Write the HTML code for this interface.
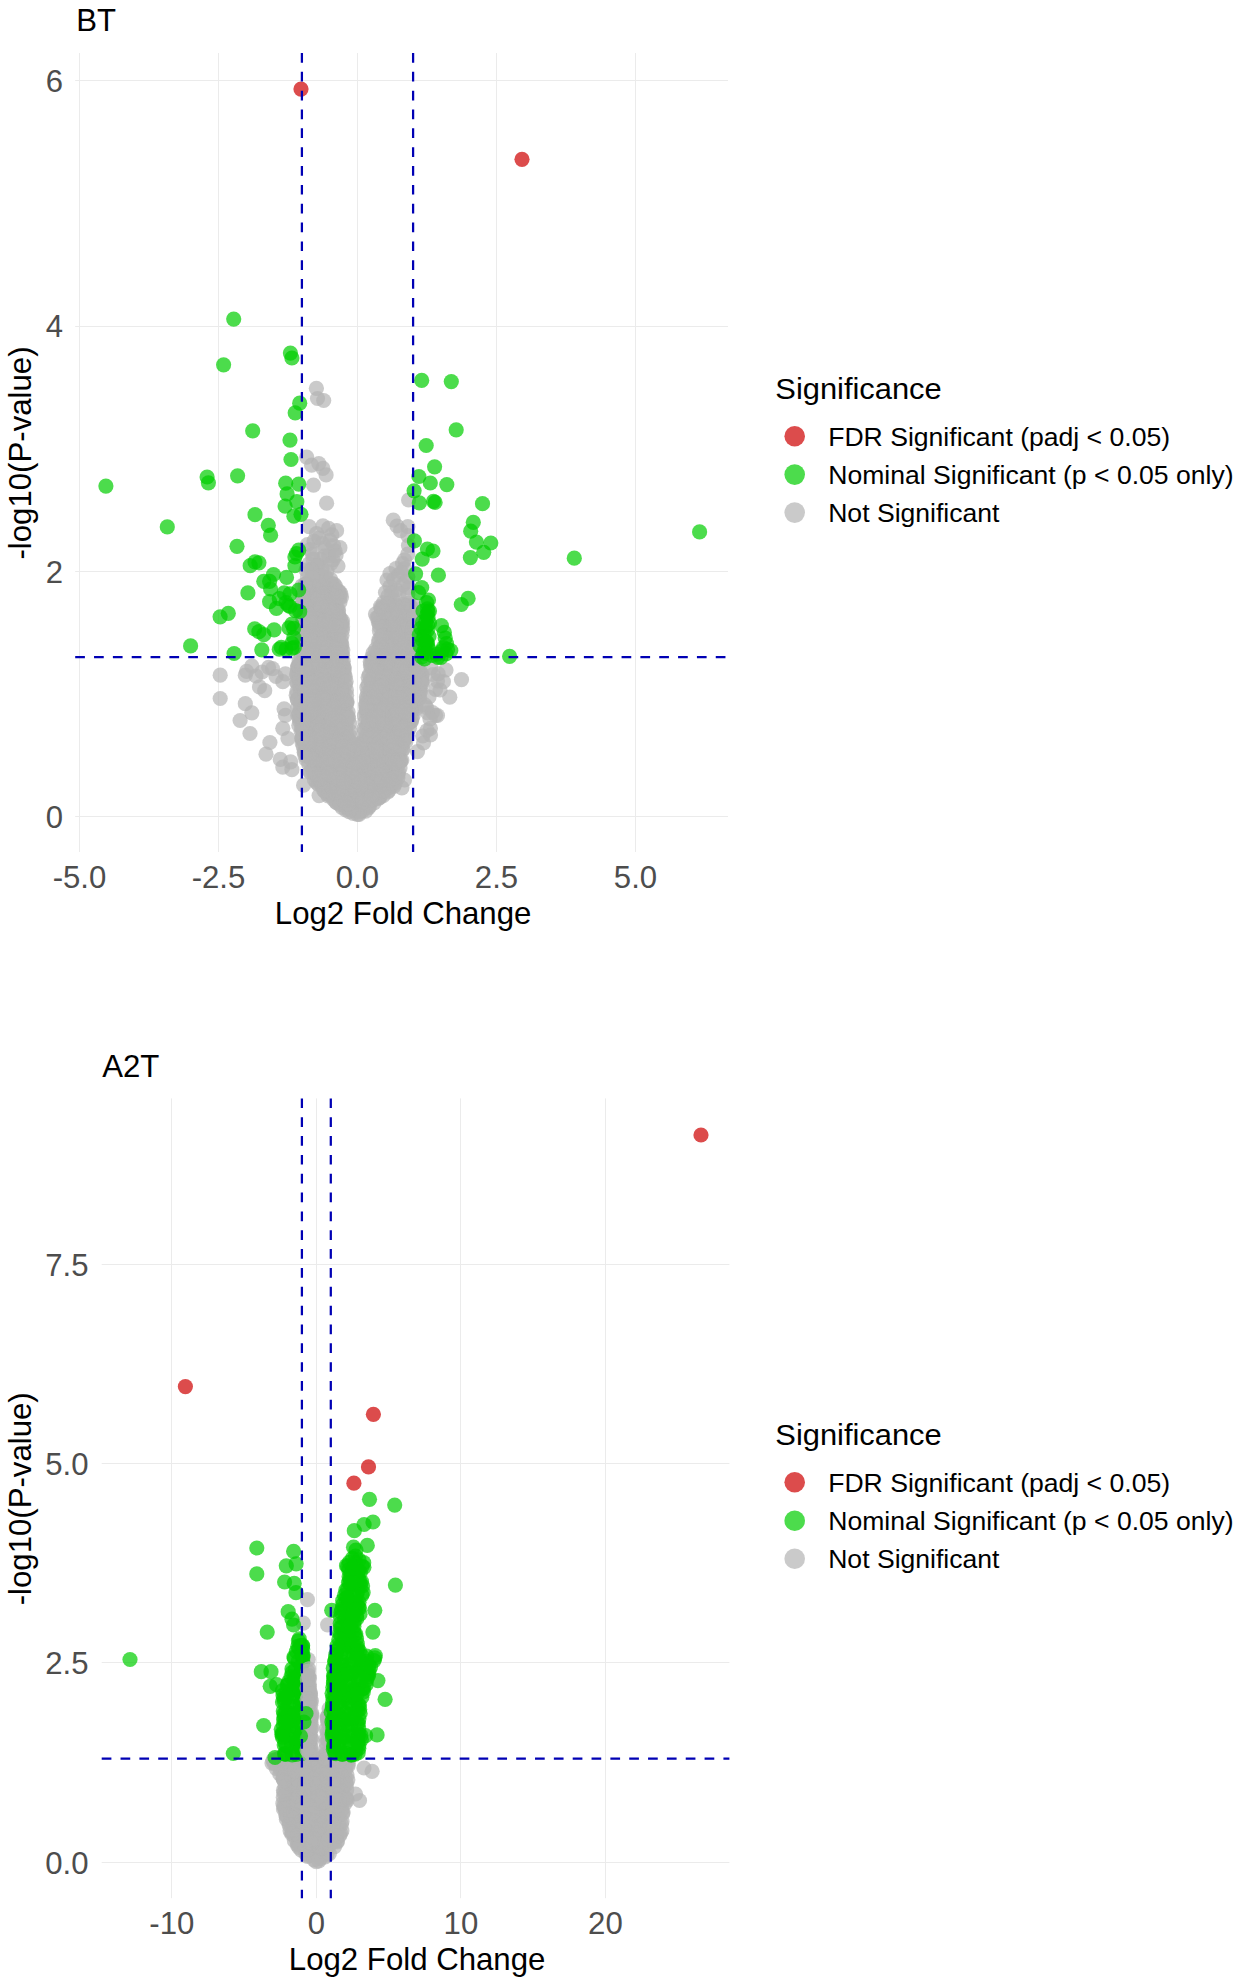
<!DOCTYPE html>
<html><head><meta charset="utf-8"><title>Volcano plots</title>
<style>html,body{margin:0;padding:0;background:#fff}svg{display:block;font-family:"Liberation Sans",sans-serif}</style></head><body>
<svg width="1236" height="1986" viewBox="0 0 1236 1986">
<rect width="1236" height="1986" fill="#fff"/>
<g stroke="#ebebeb" stroke-width="1" fill="none">
<line x1="79.5" y1="53.0" x2="79.5" y2="852.0"/>
<line x1="218.5" y1="53.0" x2="218.5" y2="852.0"/>
<line x1="357.5" y1="53.0" x2="357.5" y2="852.0"/>
<line x1="496.5" y1="53.0" x2="496.5" y2="852.0"/>
<line x1="635.5" y1="53.0" x2="635.5" y2="852.0"/>
<line x1="75.2" y1="816.5" x2="728.0" y2="816.5"/>
<line x1="75.2" y1="571.5" x2="728.0" y2="571.5"/>
<line x1="75.2" y1="326.5" x2="728.0" y2="326.5"/>
<line x1="75.2" y1="80.5" x2="728.0" y2="80.5"/>
</g>
<g fill="#b3b3b3" fill-opacity="0.7">
<circle cx="416.9" cy="688.2" r="7.6"/>
<circle cx="311.4" cy="616.7" r="7.6"/>
<circle cx="334.5" cy="703.0" r="7.6"/>
<circle cx="328.7" cy="680.5" r="7.6"/>
<circle cx="301.2" cy="627.1" r="7.6"/>
<circle cx="318.8" cy="654.1" r="7.6"/>
<circle cx="359.6" cy="772.1" r="7.6"/>
<circle cx="382.5" cy="608.5" r="7.6"/>
<circle cx="401.2" cy="623.2" r="7.6"/>
<circle cx="378.4" cy="622.5" r="7.6"/>
<circle cx="331.4" cy="644.3" r="7.6"/>
<circle cx="359.7" cy="795.9" r="7.6"/>
<circle cx="366.9" cy="687.6" r="7.6"/>
<circle cx="350.1" cy="767.7" r="7.6"/>
<circle cx="338.1" cy="695.6" r="7.6"/>
<circle cx="317.7" cy="771.1" r="7.6"/>
<circle cx="360.0" cy="791.3" r="7.6"/>
<circle cx="314.2" cy="766.9" r="7.6"/>
<circle cx="302.5" cy="647.6" r="7.6"/>
<circle cx="395.8" cy="634.8" r="7.6"/>
<circle cx="359.8" cy="744.0" r="7.6"/>
<circle cx="327.6" cy="794.2" r="7.6"/>
<circle cx="406.4" cy="647.9" r="7.6"/>
<circle cx="302.8" cy="660.0" r="7.6"/>
<circle cx="349.6" cy="723.7" r="7.6"/>
<circle cx="334.4" cy="619.7" r="7.6"/>
<circle cx="389.5" cy="728.2" r="7.6"/>
<circle cx="347.4" cy="774.3" r="7.6"/>
<circle cx="376.8" cy="753.9" r="7.6"/>
<circle cx="338.7" cy="624.1" r="7.6"/>
<circle cx="393.5" cy="767.7" r="7.6"/>
<circle cx="327.4" cy="786.0" r="7.6"/>
<circle cx="357.0" cy="773.6" r="7.6"/>
<circle cx="411.2" cy="654.2" r="7.6"/>
<circle cx="318.6" cy="748.5" r="7.6"/>
<circle cx="414.4" cy="652.4" r="7.6"/>
<circle cx="373.5" cy="675.7" r="7.6"/>
<circle cx="345.7" cy="728.7" r="7.6"/>
<circle cx="304.5" cy="734.4" r="7.6"/>
<circle cx="335.6" cy="658.1" r="7.6"/>
<circle cx="338.9" cy="616.0" r="7.6"/>
<circle cx="336.4" cy="610.5" r="7.6"/>
<circle cx="368.5" cy="732.2" r="7.6"/>
<circle cx="332.5" cy="600.7" r="7.6"/>
<circle cx="384.0" cy="703.5" r="7.6"/>
<circle cx="397.0" cy="767.0" r="7.6"/>
<circle cx="352.5" cy="803.1" r="7.6"/>
<circle cx="305.3" cy="711.7" r="7.6"/>
<circle cx="297.8" cy="671.0" r="7.6"/>
<circle cx="336.1" cy="675.6" r="7.6"/>
<circle cx="353.9" cy="779.9" r="7.6"/>
<circle cx="338.5" cy="703.7" r="7.6"/>
<circle cx="335.0" cy="690.7" r="7.6"/>
<circle cx="419.2" cy="682.3" r="7.6"/>
<circle cx="396.6" cy="628.9" r="7.6"/>
<circle cx="375.1" cy="725.9" r="7.6"/>
<circle cx="318.1" cy="696.5" r="7.6"/>
<circle cx="304.1" cy="593.3" r="7.6"/>
<circle cx="308.6" cy="643.0" r="7.6"/>
<circle cx="351.1" cy="783.7" r="7.6"/>
<circle cx="321.5" cy="668.9" r="7.6"/>
<circle cx="416.0" cy="706.4" r="7.6"/>
<circle cx="415.9" cy="702.9" r="7.6"/>
<circle cx="408.3" cy="666.0" r="7.6"/>
<circle cx="330.9" cy="771.2" r="7.6"/>
<circle cx="385.1" cy="734.1" r="7.6"/>
<circle cx="325.5" cy="610.4" r="7.6"/>
<circle cx="360.7" cy="744.5" r="7.6"/>
<circle cx="382.0" cy="785.9" r="7.6"/>
<circle cx="380.7" cy="762.1" r="7.6"/>
<circle cx="386.9" cy="779.7" r="7.6"/>
<circle cx="364.2" cy="774.1" r="7.6"/>
<circle cx="334.7" cy="678.9" r="7.6"/>
<circle cx="305.5" cy="662.0" r="7.6"/>
<circle cx="412.6" cy="666.7" r="7.6"/>
<circle cx="340.5" cy="666.1" r="7.6"/>
<circle cx="384.3" cy="615.2" r="7.6"/>
<circle cx="384.9" cy="632.6" r="7.6"/>
<circle cx="344.2" cy="668.1" r="7.6"/>
<circle cx="408.2" cy="650.2" r="7.6"/>
<circle cx="398.3" cy="635.5" r="7.6"/>
<circle cx="322.9" cy="592.5" r="7.6"/>
<circle cx="381.7" cy="610.6" r="7.6"/>
<circle cx="382.3" cy="748.7" r="7.6"/>
<circle cx="420.2" cy="688.4" r="7.6"/>
<circle cx="334.4" cy="791.2" r="7.6"/>
<circle cx="403.6" cy="691.1" r="7.6"/>
<circle cx="369.2" cy="803.2" r="7.6"/>
<circle cx="315.2" cy="646.6" r="7.6"/>
<circle cx="337.2" cy="776.5" r="7.6"/>
<circle cx="346.7" cy="799.4" r="7.6"/>
<circle cx="313.2" cy="629.0" r="7.6"/>
<circle cx="322.4" cy="774.2" r="7.6"/>
<circle cx="345.4" cy="684.5" r="7.6"/>
<circle cx="380.5" cy="667.4" r="7.6"/>
<circle cx="327.2" cy="590.9" r="7.6"/>
<circle cx="377.6" cy="727.5" r="7.6"/>
<circle cx="342.6" cy="655.6" r="7.6"/>
<circle cx="399.6" cy="619.6" r="7.6"/>
<circle cx="313.8" cy="723.1" r="7.6"/>
<circle cx="348.1" cy="712.1" r="7.6"/>
<circle cx="318.2" cy="784.2" r="7.6"/>
<circle cx="376.9" cy="617.6" r="7.6"/>
<circle cx="389.9" cy="637.2" r="7.6"/>
<circle cx="410.4" cy="608.2" r="7.6"/>
<circle cx="315.7" cy="630.2" r="7.6"/>
<circle cx="394.5" cy="731.5" r="7.6"/>
<circle cx="340.7" cy="673.9" r="7.6"/>
<circle cx="341.8" cy="644.9" r="7.6"/>
<circle cx="398.5" cy="695.4" r="7.6"/>
<circle cx="371.1" cy="762.5" r="7.6"/>
<circle cx="332.3" cy="737.9" r="7.6"/>
<circle cx="342.4" cy="630.0" r="7.6"/>
<circle cx="382.3" cy="759.4" r="7.6"/>
<circle cx="406.8" cy="606.7" r="7.6"/>
<circle cx="341.2" cy="648.9" r="7.6"/>
<circle cx="351.7" cy="760.7" r="7.6"/>
<circle cx="341.5" cy="766.7" r="7.6"/>
<circle cx="373.0" cy="653.2" r="7.6"/>
<circle cx="369.4" cy="674.7" r="7.6"/>
<circle cx="326.4" cy="587.7" r="7.6"/>
<circle cx="303.5" cy="651.0" r="7.6"/>
<circle cx="403.1" cy="742.3" r="7.6"/>
<circle cx="320.3" cy="596.2" r="7.6"/>
<circle cx="337.1" cy="712.8" r="7.6"/>
<circle cx="387.0" cy="788.5" r="7.6"/>
<circle cx="404.0" cy="636.6" r="7.6"/>
<circle cx="398.1" cy="647.0" r="7.6"/>
<circle cx="327.5" cy="766.6" r="7.6"/>
<circle cx="313.1" cy="755.0" r="7.6"/>
<circle cx="299.7" cy="718.7" r="7.6"/>
<circle cx="387.0" cy="627.0" r="7.6"/>
<circle cx="330.4" cy="691.8" r="7.6"/>
<circle cx="328.3" cy="663.3" r="7.6"/>
<circle cx="403.1" cy="749.3" r="7.6"/>
<circle cx="397.1" cy="623.6" r="7.6"/>
<circle cx="404.3" cy="612.6" r="7.6"/>
<circle cx="383.9" cy="646.2" r="7.6"/>
<circle cx="421.8" cy="682.2" r="7.6"/>
<circle cx="412.9" cy="619.0" r="7.6"/>
<circle cx="378.0" cy="764.5" r="7.6"/>
<circle cx="318.7" cy="704.5" r="7.6"/>
<circle cx="376.5" cy="660.9" r="7.6"/>
<circle cx="303.3" cy="746.7" r="7.6"/>
<circle cx="313.4" cy="672.7" r="7.6"/>
<circle cx="360.9" cy="767.4" r="7.6"/>
<circle cx="331.1" cy="627.6" r="7.6"/>
<circle cx="331.7" cy="652.4" r="7.6"/>
<circle cx="299.7" cy="721.5" r="7.6"/>
<circle cx="300.2" cy="690.1" r="7.6"/>
<circle cx="319.8" cy="615.4" r="7.6"/>
<circle cx="329.2" cy="600.0" r="7.6"/>
<circle cx="340.1" cy="732.7" r="7.6"/>
<circle cx="364.1" cy="765.6" r="7.6"/>
<circle cx="371.7" cy="716.3" r="7.6"/>
<circle cx="376.3" cy="698.8" r="7.6"/>
<circle cx="340.8" cy="706.0" r="7.6"/>
<circle cx="350.2" cy="771.5" r="7.6"/>
<circle cx="305.6" cy="584.1" r="7.6"/>
<circle cx="327.5" cy="583.3" r="7.6"/>
<circle cx="331.8" cy="632.1" r="7.6"/>
<circle cx="366.4" cy="697.1" r="7.6"/>
<circle cx="371.3" cy="740.6" r="7.6"/>
<circle cx="382.4" cy="743.2" r="7.6"/>
<circle cx="306.3" cy="717.9" r="7.6"/>
<circle cx="317.7" cy="683.8" r="7.6"/>
<circle cx="311.7" cy="607.8" r="7.6"/>
<circle cx="309.2" cy="649.0" r="7.6"/>
<circle cx="337.8" cy="751.1" r="7.6"/>
<circle cx="308.7" cy="634.6" r="7.6"/>
<circle cx="372.1" cy="660.3" r="7.6"/>
<circle cx="383.9" cy="622.3" r="7.6"/>
<circle cx="415.2" cy="679.5" r="7.6"/>
<circle cx="328.2" cy="655.1" r="7.6"/>
<circle cx="334.6" cy="727.3" r="7.6"/>
<circle cx="386.2" cy="660.0" r="7.6"/>
<circle cx="363.6" cy="771.7" r="7.6"/>
<circle cx="332.8" cy="694.5" r="7.6"/>
<circle cx="327.8" cy="597.0" r="7.6"/>
<circle cx="329.9" cy="588.6" r="7.6"/>
<circle cx="408.6" cy="698.4" r="7.6"/>
<circle cx="305.6" cy="614.2" r="7.6"/>
<circle cx="384.9" cy="651.4" r="7.6"/>
<circle cx="316.4" cy="782.5" r="7.6"/>
<circle cx="318.0" cy="646.8" r="7.6"/>
<circle cx="382.8" cy="670.0" r="7.6"/>
<circle cx="377.8" cy="732.8" r="7.6"/>
<circle cx="303.7" cy="629.2" r="7.6"/>
<circle cx="314.0" cy="592.8" r="7.6"/>
<circle cx="309.5" cy="734.7" r="7.6"/>
<circle cx="386.8" cy="618.3" r="7.6"/>
<circle cx="340.3" cy="684.8" r="7.6"/>
<circle cx="409.7" cy="690.4" r="7.6"/>
<circle cx="316.8" cy="627.2" r="7.6"/>
<circle cx="392.2" cy="606.8" r="7.6"/>
<circle cx="317.3" cy="690.5" r="7.6"/>
<circle cx="302.5" cy="623.6" r="7.6"/>
<circle cx="338.7" cy="639.3" r="7.6"/>
<circle cx="371.9" cy="786.4" r="7.6"/>
<circle cx="392.2" cy="621.1" r="7.6"/>
<circle cx="368.0" cy="794.9" r="7.6"/>
<circle cx="352.0" cy="790.9" r="7.6"/>
<circle cx="346.1" cy="724.1" r="7.6"/>
<circle cx="371.6" cy="684.2" r="7.6"/>
<circle cx="337.3" cy="734.8" r="7.6"/>
<circle cx="332.6" cy="750.4" r="7.6"/>
<circle cx="367.7" cy="692.7" r="7.6"/>
<circle cx="297.2" cy="675.1" r="7.6"/>
<circle cx="374.6" cy="712.6" r="7.6"/>
<circle cx="391.6" cy="763.9" r="7.6"/>
<circle cx="419.1" cy="697.8" r="7.6"/>
<circle cx="314.8" cy="695.6" r="7.6"/>
<circle cx="402.4" cy="719.2" r="7.6"/>
<circle cx="348.0" cy="716.3" r="7.6"/>
<circle cx="329.7" cy="675.7" r="7.6"/>
<circle cx="346.6" cy="695.3" r="7.6"/>
<circle cx="325.2" cy="634.7" r="7.6"/>
<circle cx="332.4" cy="664.5" r="7.6"/>
<circle cx="329.1" cy="703.2" r="7.6"/>
<circle cx="338.5" cy="610.5" r="7.6"/>
<circle cx="317.8" cy="643.1" r="7.6"/>
<circle cx="328.0" cy="649.0" r="7.6"/>
<circle cx="410.0" cy="622.5" r="7.6"/>
<circle cx="375.9" cy="795.4" r="7.6"/>
<circle cx="365.8" cy="712.6" r="7.6"/>
<circle cx="378.8" cy="710.7" r="7.6"/>
<circle cx="334.3" cy="639.0" r="7.6"/>
<circle cx="309.3" cy="732.8" r="7.6"/>
<circle cx="317.2" cy="700.7" r="7.6"/>
<circle cx="403.2" cy="643.2" r="7.6"/>
<circle cx="344.1" cy="671.1" r="7.6"/>
<circle cx="386.4" cy="746.0" r="7.6"/>
<circle cx="302.0" cy="585.9" r="7.6"/>
<circle cx="397.7" cy="607.5" r="7.6"/>
<circle cx="301.0" cy="658.7" r="7.6"/>
<circle cx="352.9" cy="810.3" r="7.6"/>
<circle cx="406.7" cy="605.4" r="7.6"/>
<circle cx="348.9" cy="755.6" r="7.6"/>
<circle cx="368.7" cy="714.7" r="7.6"/>
<circle cx="297.4" cy="667.9" r="7.6"/>
<circle cx="357.2" cy="806.5" r="7.6"/>
<circle cx="326.9" cy="748.2" r="7.6"/>
<circle cx="408.3" cy="662.4" r="7.6"/>
<circle cx="408.2" cy="685.8" r="7.6"/>
<circle cx="398.6" cy="772.0" r="7.6"/>
<circle cx="364.1" cy="728.7" r="7.6"/>
<circle cx="319.3" cy="679.9" r="7.6"/>
<circle cx="357.7" cy="762.6" r="7.6"/>
<circle cx="405.5" cy="738.5" r="7.6"/>
<circle cx="342.6" cy="663.7" r="7.6"/>
<circle cx="354.4" cy="755.5" r="7.6"/>
<circle cx="383.1" cy="795.7" r="7.6"/>
<circle cx="321.6" cy="756.6" r="7.6"/>
<circle cx="393.9" cy="621.0" r="7.6"/>
<circle cx="402.7" cy="702.8" r="7.6"/>
<circle cx="350.3" cy="743.8" r="7.6"/>
<circle cx="322.4" cy="663.5" r="7.6"/>
<circle cx="300.2" cy="708.9" r="7.6"/>
<circle cx="402.8" cy="616.5" r="7.6"/>
<circle cx="396.7" cy="676.3" r="7.6"/>
<circle cx="327.7" cy="734.3" r="7.6"/>
<circle cx="326.6" cy="715.6" r="7.6"/>
<circle cx="336.5" cy="746.5" r="7.6"/>
<circle cx="348.4" cy="742.5" r="7.6"/>
<circle cx="389.4" cy="632.9" r="7.6"/>
<circle cx="373.7" cy="708.6" r="7.6"/>
<circle cx="397.9" cy="777.8" r="7.6"/>
<circle cx="335.7" cy="764.6" r="7.6"/>
<circle cx="380.0" cy="716.1" r="7.6"/>
<circle cx="296.6" cy="674.2" r="7.6"/>
<circle cx="349.9" cy="763.7" r="7.6"/>
<circle cx="422.1" cy="674.3" r="7.6"/>
<circle cx="318.8" cy="672.3" r="7.6"/>
<circle cx="343.3" cy="762.5" r="7.6"/>
<circle cx="404.2" cy="675.2" r="7.6"/>
<circle cx="359.3" cy="776.0" r="7.6"/>
<circle cx="309.6" cy="600.9" r="7.6"/>
<circle cx="325.2" cy="656.6" r="7.6"/>
<circle cx="346.6" cy="783.7" r="7.6"/>
<circle cx="408.0" cy="704.8" r="7.6"/>
<circle cx="381.8" cy="650.2" r="7.6"/>
<circle cx="305.6" cy="704.8" r="7.6"/>
<circle cx="329.4" cy="723.9" r="7.6"/>
<circle cx="381.9" cy="698.7" r="7.6"/>
<circle cx="412.3" cy="646.0" r="7.6"/>
<circle cx="309.3" cy="588.6" r="7.6"/>
<circle cx="400.3" cy="675.8" r="7.6"/>
<circle cx="386.1" cy="635.7" r="7.6"/>
<circle cx="334.4" cy="643.3" r="7.6"/>
<circle cx="301.4" cy="694.5" r="7.6"/>
<circle cx="307.3" cy="627.8" r="7.6"/>
<circle cx="346.3" cy="791.9" r="7.6"/>
<circle cx="334.6" cy="737.8" r="7.6"/>
<circle cx="313.9" cy="732.6" r="7.6"/>
<circle cx="389.1" cy="784.2" r="7.6"/>
<circle cx="399.0" cy="740.2" r="7.6"/>
<circle cx="405.0" cy="659.6" r="7.6"/>
<circle cx="342.5" cy="620.8" r="7.6"/>
<circle cx="391.2" cy="643.9" r="7.6"/>
<circle cx="324.6" cy="606.4" r="7.6"/>
<circle cx="303.4" cy="619.7" r="7.6"/>
<circle cx="386.8" cy="671.9" r="7.6"/>
<circle cx="336.6" cy="802.6" r="7.6"/>
<circle cx="327.1" cy="739.3" r="7.6"/>
<circle cx="329.9" cy="794.8" r="7.6"/>
<circle cx="315.2" cy="584.8" r="7.6"/>
<circle cx="376.1" cy="676.0" r="7.6"/>
<circle cx="343.2" cy="730.0" r="7.6"/>
<circle cx="314.2" cy="752.5" r="7.6"/>
<circle cx="399.9" cy="660.6" r="7.6"/>
<circle cx="392.5" cy="688.2" r="7.6"/>
<circle cx="311.6" cy="658.9" r="7.6"/>
<circle cx="413.7" cy="643.6" r="7.6"/>
<circle cx="333.5" cy="799.3" r="7.6"/>
<circle cx="322.7" cy="642.3" r="7.6"/>
<circle cx="370.7" cy="691.4" r="7.6"/>
<circle cx="308.3" cy="650.1" r="7.6"/>
<circle cx="343.5" cy="795.9" r="7.6"/>
<circle cx="340.4" cy="618.3" r="7.6"/>
<circle cx="387.3" cy="766.4" r="7.6"/>
<circle cx="369.5" cy="751.2" r="7.6"/>
<circle cx="390.8" cy="716.7" r="7.6"/>
<circle cx="416.1" cy="708.7" r="7.6"/>
<circle cx="390.1" cy="627.3" r="7.6"/>
<circle cx="373.4" cy="746.6" r="7.6"/>
<circle cx="411.2" cy="664.3" r="7.6"/>
<circle cx="330.1" cy="616.7" r="7.6"/>
<circle cx="321.4" cy="762.0" r="7.6"/>
<circle cx="302.9" cy="593.7" r="7.6"/>
<circle cx="359.9" cy="750.6" r="7.6"/>
<circle cx="302.0" cy="636.1" r="7.6"/>
<circle cx="361.7" cy="747.7" r="7.6"/>
<circle cx="381.5" cy="658.5" r="7.6"/>
<circle cx="341.8" cy="680.1" r="7.6"/>
<circle cx="329.4" cy="777.5" r="7.6"/>
<circle cx="386.9" cy="654.3" r="7.6"/>
<circle cx="304.7" cy="603.6" r="7.6"/>
<circle cx="366.7" cy="699.9" r="7.6"/>
<circle cx="341.9" cy="807.3" r="7.6"/>
<circle cx="349.7" cy="785.6" r="7.6"/>
<circle cx="417.9" cy="668.9" r="7.6"/>
<circle cx="324.7" cy="791.4" r="7.6"/>
<circle cx="419.6" cy="674.0" r="7.6"/>
<circle cx="323.5" cy="789.8" r="7.6"/>
<circle cx="396.2" cy="605.4" r="7.6"/>
<circle cx="364.2" cy="788.4" r="7.6"/>
<circle cx="313.0" cy="650.4" r="7.6"/>
<circle cx="394.0" cy="754.5" r="7.6"/>
<circle cx="319.3" cy="781.5" r="7.6"/>
<circle cx="316.4" cy="764.1" r="7.6"/>
<circle cx="385.1" cy="692.6" r="7.6"/>
<circle cx="413.2" cy="649.5" r="7.6"/>
<circle cx="333.4" cy="654.1" r="7.6"/>
<circle cx="348.2" cy="738.7" r="7.6"/>
<circle cx="333.9" cy="785.4" r="7.6"/>
<circle cx="329.4" cy="698.9" r="7.6"/>
<circle cx="394.5" cy="721.7" r="7.6"/>
<circle cx="302.7" cy="731.9" r="7.6"/>
<circle cx="325.1" cy="598.3" r="7.6"/>
<circle cx="368.4" cy="743.2" r="7.6"/>
<circle cx="373.7" cy="678.6" r="7.6"/>
<circle cx="325.9" cy="779.1" r="7.6"/>
<circle cx="378.4" cy="737.7" r="7.6"/>
<circle cx="331.0" cy="604.7" r="7.6"/>
<circle cx="336.4" cy="664.8" r="7.6"/>
<circle cx="336.6" cy="632.4" r="7.6"/>
<circle cx="405.2" cy="641.2" r="7.6"/>
<circle cx="403.4" cy="604.3" r="7.6"/>
<circle cx="325.5" cy="625.1" r="7.6"/>
<circle cx="366.9" cy="726.6" r="7.6"/>
<circle cx="342.9" cy="792.5" r="7.6"/>
<circle cx="341.1" cy="720.5" r="7.6"/>
<circle cx="399.2" cy="616.2" r="7.6"/>
<circle cx="325.2" cy="742.1" r="7.6"/>
<circle cx="388.6" cy="719.3" r="7.6"/>
<circle cx="365.6" cy="705.1" r="7.6"/>
<circle cx="378.1" cy="664.1" r="7.6"/>
<circle cx="312.1" cy="675.4" r="7.6"/>
<circle cx="325.3" cy="767.7" r="7.6"/>
<circle cx="340.0" cy="602.1" r="7.6"/>
<circle cx="382.9" cy="751.1" r="7.6"/>
<circle cx="363.7" cy="741.5" r="7.6"/>
<circle cx="319.7" cy="591.1" r="7.6"/>
<circle cx="330.0" cy="639.9" r="7.6"/>
<circle cx="392.2" cy="771.2" r="7.6"/>
<circle cx="366.9" cy="805.9" r="7.6"/>
<circle cx="358.4" cy="787.7" r="7.6"/>
<circle cx="378.1" cy="772.6" r="7.6"/>
<circle cx="374.4" cy="688.5" r="7.6"/>
<circle cx="332.4" cy="667.9" r="7.6"/>
<circle cx="412.6" cy="634.5" r="7.6"/>
<circle cx="382.5" cy="730.9" r="7.6"/>
<circle cx="328.6" cy="744.7" r="7.6"/>
<circle cx="308.9" cy="707.8" r="7.6"/>
<circle cx="320.7" cy="750.5" r="7.6"/>
<circle cx="403.8" cy="651.2" r="7.6"/>
<circle cx="322.6" cy="584.8" r="7.6"/>
<circle cx="328.0" cy="781.4" r="7.6"/>
<circle cx="309.1" cy="659.8" r="7.6"/>
<circle cx="301.9" cy="738.0" r="7.6"/>
<circle cx="413.5" cy="636.4" r="7.6"/>
<circle cx="313.9" cy="687.4" r="7.6"/>
<circle cx="375.8" cy="747.8" r="7.6"/>
<circle cx="335.7" cy="723.4" r="7.6"/>
<circle cx="350.2" cy="731.4" r="7.6"/>
<circle cx="345.8" cy="809.8" r="7.6"/>
<circle cx="304.2" cy="699.3" r="7.6"/>
<circle cx="305.9" cy="696.6" r="7.6"/>
<circle cx="320.8" cy="612.5" r="7.6"/>
<circle cx="304.2" cy="752.2" r="7.6"/>
<circle cx="381.4" cy="609.1" r="7.6"/>
<circle cx="302.4" cy="643.2" r="7.6"/>
<circle cx="366.5" cy="799.9" r="7.6"/>
<circle cx="319.1" cy="768.1" r="7.6"/>
<circle cx="404.0" cy="627.2" r="7.6"/>
<circle cx="359.7" cy="808.0" r="7.6"/>
<circle cx="334.4" cy="681.9" r="7.6"/>
<circle cx="341.9" cy="622.9" r="7.6"/>
<circle cx="311.3" cy="695.8" r="7.6"/>
<circle cx="344.9" cy="780.4" r="7.6"/>
<circle cx="313.5" cy="748.1" r="7.6"/>
<circle cx="405.7" cy="680.6" r="7.6"/>
<circle cx="355.7" cy="799.4" r="7.6"/>
<circle cx="355.2" cy="751.4" r="7.6"/>
<circle cx="314.5" cy="780.0" r="7.6"/>
<circle cx="311.2" cy="587.0" r="7.6"/>
<circle cx="341.7" cy="655.5" r="7.6"/>
<circle cx="329.1" cy="695.1" r="7.6"/>
<circle cx="393.7" cy="643.1" r="7.6"/>
<circle cx="409.1" cy="621.1" r="7.6"/>
<circle cx="342.8" cy="650.0" r="7.6"/>
<circle cx="297.9" cy="678.3" r="7.6"/>
<circle cx="387.6" cy="644.5" r="7.6"/>
<circle cx="321.3" cy="691.0" r="7.6"/>
<circle cx="313.4" cy="584.5" r="7.6"/>
<circle cx="409.4" cy="728.5" r="7.6"/>
<circle cx="327.8" cy="605.3" r="7.6"/>
<circle cx="382.8" cy="627.5" r="7.6"/>
<circle cx="323.1" cy="727.1" r="7.6"/>
<circle cx="366.4" cy="748.7" r="7.6"/>
<circle cx="419.7" cy="690.8" r="7.6"/>
<circle cx="415.8" cy="695.5" r="7.6"/>
<circle cx="343.4" cy="690.9" r="7.6"/>
<circle cx="402.2" cy="726.8" r="7.6"/>
<circle cx="315.8" cy="739.3" r="7.6"/>
<circle cx="331.8" cy="746.1" r="7.6"/>
<circle cx="370.3" cy="758.2" r="7.6"/>
<circle cx="328.2" cy="670.6" r="7.6"/>
<circle cx="389.8" cy="749.9" r="7.6"/>
<circle cx="399.1" cy="662.0" r="7.6"/>
<circle cx="391.7" cy="680.1" r="7.6"/>
<circle cx="404.7" cy="713.7" r="7.6"/>
<circle cx="315.7" cy="707.2" r="7.6"/>
<circle cx="310.1" cy="772.4" r="7.6"/>
<circle cx="308.9" cy="684.5" r="7.6"/>
<circle cx="341.8" cy="671.2" r="7.6"/>
<circle cx="314.0" cy="620.1" r="7.6"/>
<circle cx="309.6" cy="671.1" r="7.6"/>
<circle cx="380.4" cy="675.4" r="7.6"/>
<circle cx="420.5" cy="691.5" r="7.6"/>
<circle cx="364.5" cy="715.7" r="7.6"/>
<circle cx="359.1" cy="814.3" r="7.6"/>
<circle cx="339.2" cy="748.5" r="7.6"/>
<circle cx="346.9" cy="701.5" r="7.6"/>
<circle cx="318.0" cy="618.3" r="7.6"/>
<circle cx="304.5" cy="611.1" r="7.6"/>
<circle cx="325.6" cy="724.4" r="7.6"/>
<circle cx="357.2" cy="801.6" r="7.6"/>
<circle cx="346.8" cy="703.5" r="7.6"/>
<circle cx="343.9" cy="714.6" r="7.6"/>
<circle cx="315.3" cy="719.4" r="7.6"/>
<circle cx="314.9" cy="774.5" r="7.6"/>
<circle cx="329.3" cy="632.9" r="7.6"/>
<circle cx="322.5" cy="722.0" r="7.6"/>
<circle cx="311.1" cy="635.5" r="7.6"/>
<circle cx="360.3" cy="798.5" r="7.6"/>
<circle cx="296.2" cy="695.2" r="7.6"/>
<circle cx="421.7" cy="675.5" r="7.6"/>
<circle cx="299.3" cy="682.9" r="7.6"/>
<circle cx="332.9" cy="736.8" r="7.6"/>
<circle cx="398.7" cy="706.0" r="7.6"/>
<circle cx="402.7" cy="672.8" r="7.6"/>
<circle cx="327.5" cy="753.7" r="7.6"/>
<circle cx="395.9" cy="699.3" r="7.6"/>
<circle cx="408.5" cy="611.6" r="7.6"/>
<circle cx="331.9" cy="583.6" r="7.6"/>
<circle cx="345.3" cy="676.4" r="7.6"/>
<circle cx="394.5" cy="649.0" r="7.6"/>
<circle cx="414.4" cy="635.6" r="7.6"/>
<circle cx="331.6" cy="710.1" r="7.6"/>
<circle cx="385.5" cy="606.0" r="7.6"/>
<circle cx="324.9" cy="626.3" r="7.6"/>
<circle cx="336.1" cy="754.9" r="7.6"/>
<circle cx="386.0" cy="755.4" r="7.6"/>
<circle cx="316.3" cy="599.6" r="7.6"/>
<circle cx="401.2" cy="716.1" r="7.6"/>
<circle cx="331.0" cy="786.5" r="7.6"/>
<circle cx="334.4" cy="783.3" r="7.6"/>
<circle cx="335.8" cy="634.7" r="7.6"/>
<circle cx="377.6" cy="786.9" r="7.6"/>
<circle cx="411.5" cy="711.0" r="7.6"/>
<circle cx="346.0" cy="739.2" r="7.6"/>
<circle cx="372.0" cy="657.6" r="7.6"/>
<circle cx="399.0" cy="627.2" r="7.6"/>
<circle cx="338.5" cy="786.5" r="7.6"/>
<circle cx="390.0" cy="707.4" r="7.6"/>
<circle cx="312.8" cy="716.8" r="7.6"/>
<circle cx="399.9" cy="650.7" r="7.6"/>
<circle cx="408.3" cy="614.2" r="7.6"/>
<circle cx="320.9" cy="660.0" r="7.6"/>
<circle cx="384.7" cy="770.3" r="7.6"/>
<circle cx="353.2" cy="770.1" r="7.6"/>
<circle cx="329.3" cy="622.8" r="7.6"/>
<circle cx="386.4" cy="700.0" r="7.6"/>
<circle cx="382.9" cy="756.3" r="7.6"/>
<circle cx="384.8" cy="774.0" r="7.6"/>
<circle cx="317.5" cy="604.5" r="7.6"/>
<circle cx="409.8" cy="703.8" r="7.6"/>
<circle cx="409.1" cy="644.5" r="7.6"/>
<circle cx="384.6" cy="715.7" r="7.6"/>
<circle cx="398.2" cy="638.8" r="7.6"/>
<circle cx="400.6" cy="686.5" r="7.6"/>
<circle cx="328.7" cy="607.5" r="7.6"/>
<circle cx="368.4" cy="770.9" r="7.6"/>
<circle cx="391.4" cy="722.5" r="7.6"/>
<circle cx="382.5" cy="784.6" r="7.6"/>
<circle cx="403.8" cy="722.5" r="7.6"/>
<circle cx="370.3" cy="661.8" r="7.6"/>
<circle cx="302.6" cy="740.0" r="7.6"/>
<circle cx="364.0" cy="739.7" r="7.6"/>
<circle cx="406.5" cy="630.5" r="7.6"/>
<circle cx="315.0" cy="664.7" r="7.6"/>
<circle cx="379.6" cy="797.6" r="7.6"/>
<circle cx="370.6" cy="784.4" r="7.6"/>
<circle cx="313.3" cy="728.6" r="7.6"/>
<circle cx="301.7" cy="715.0" r="7.6"/>
<circle cx="305.8" cy="686.3" r="7.6"/>
<circle cx="331.4" cy="682.6" r="7.6"/>
<circle cx="390.2" cy="682.8" r="7.6"/>
<circle cx="343.6" cy="707.8" r="7.6"/>
<circle cx="375.3" cy="706.9" r="7.6"/>
<circle cx="381.2" cy="607.9" r="7.6"/>
<circle cx="313.7" cy="763.6" r="7.6"/>
<circle cx="409.7" cy="636.0" r="7.6"/>
<circle cx="298.8" cy="725.4" r="7.6"/>
<circle cx="401.8" cy="607.5" r="7.6"/>
<circle cx="401.8" cy="760.1" r="7.6"/>
<circle cx="341.5" cy="728.7" r="7.6"/>
<circle cx="367.6" cy="753.6" r="7.6"/>
<circle cx="384.5" cy="710.5" r="7.6"/>
<circle cx="346.7" cy="702.6" r="7.6"/>
<circle cx="367.3" cy="763.6" r="7.6"/>
<circle cx="378.0" cy="696.9" r="7.6"/>
<circle cx="390.2" cy="675.7" r="7.6"/>
<circle cx="381.1" cy="621.0" r="7.6"/>
<circle cx="387.1" cy="686.1" r="7.6"/>
<circle cx="414.9" cy="664.6" r="7.6"/>
<circle cx="341.4" cy="794.4" r="7.6"/>
<circle cx="297.4" cy="699.1" r="7.6"/>
<circle cx="334.6" cy="609.1" r="7.6"/>
<circle cx="378.2" cy="718.8" r="7.6"/>
<circle cx="297.8" cy="666.0" r="7.6"/>
<circle cx="386.2" cy="683.4" r="7.6"/>
<circle cx="308.3" cy="602.8" r="7.6"/>
<circle cx="311.6" cy="613.3" r="7.6"/>
<circle cx="342.5" cy="773.8" r="7.6"/>
<circle cx="309.1" cy="583.9" r="7.6"/>
<circle cx="330.0" cy="752.0" r="7.6"/>
<circle cx="349.2" cy="811.7" r="7.6"/>
<circle cx="344.3" cy="675.0" r="7.6"/>
<circle cx="342.6" cy="626.7" r="7.6"/>
<circle cx="338.6" cy="799.3" r="7.6"/>
<circle cx="331.7" cy="670.4" r="7.6"/>
<circle cx="321.4" cy="770.7" r="7.6"/>
<circle cx="328.1" cy="728.0" r="7.6"/>
<circle cx="393.2" cy="672.5" r="7.6"/>
<circle cx="368.4" cy="774.0" r="7.6"/>
<circle cx="404.8" cy="684.3" r="7.6"/>
<circle cx="379.5" cy="622.4" r="7.6"/>
<circle cx="335.9" cy="802.0" r="7.6"/>
<circle cx="322.6" cy="736.1" r="7.6"/>
<circle cx="334.9" cy="605.1" r="7.6"/>
<circle cx="338.9" cy="754.9" r="7.6"/>
<circle cx="324.6" cy="695.2" r="7.6"/>
<circle cx="410.6" cy="696.4" r="7.6"/>
<circle cx="320.0" cy="638.3" r="7.6"/>
<circle cx="311.8" cy="738.2" r="7.6"/>
<circle cx="405.9" cy="699.7" r="7.6"/>
<circle cx="385.5" cy="730.7" r="7.6"/>
<circle cx="350.4" cy="741.8" r="7.6"/>
<circle cx="304.6" cy="751.6" r="7.6"/>
<circle cx="299.5" cy="715.3" r="7.6"/>
<circle cx="343.6" cy="800.5" r="7.6"/>
<circle cx="390.2" cy="660.0" r="7.6"/>
<circle cx="407.9" cy="696.1" r="7.6"/>
<circle cx="374.5" cy="776.5" r="7.6"/>
<circle cx="359.2" cy="758.9" r="7.6"/>
<circle cx="392.9" cy="710.9" r="7.6"/>
<circle cx="395.1" cy="783.5" r="7.6"/>
<circle cx="394.0" cy="693.0" r="7.6"/>
<circle cx="378.5" cy="642.5" r="7.6"/>
<circle cx="381.1" cy="644.2" r="7.6"/>
<circle cx="322.2" cy="748.1" r="7.6"/>
<circle cx="336.2" cy="598.6" r="7.6"/>
<circle cx="366.2" cy="758.3" r="7.6"/>
<circle cx="392.5" cy="662.6" r="7.6"/>
<circle cx="388.3" cy="743.6" r="7.6"/>
<circle cx="301.8" cy="672.2" r="7.6"/>
<circle cx="348.2" cy="779.0" r="7.6"/>
<circle cx="297.1" cy="682.0" r="7.6"/>
<circle cx="381.6" cy="707.4" r="7.6"/>
<circle cx="413.1" cy="605.1" r="7.6"/>
<circle cx="371.2" cy="667.7" r="7.6"/>
<circle cx="306.1" cy="728.6" r="7.6"/>
<circle cx="371.2" cy="702.6" r="7.6"/>
<circle cx="397.4" cy="741.9" r="7.6"/>
<circle cx="345.5" cy="711.0" r="7.6"/>
<circle cx="393.0" cy="725.9" r="7.6"/>
<circle cx="405.0" cy="731.1" r="7.6"/>
<circle cx="314.4" cy="760.4" r="7.6"/>
<circle cx="339.0" cy="634.9" r="7.6"/>
<circle cx="306.9" cy="746.3" r="7.6"/>
<circle cx="391.5" cy="604.8" r="7.6"/>
<circle cx="421.5" cy="679.1" r="7.6"/>
<circle cx="387.0" cy="624.2" r="7.6"/>
<circle cx="373.8" cy="743.4" r="7.6"/>
<circle cx="316.8" cy="753.9" r="7.6"/>
<circle cx="412.3" cy="638.7" r="7.6"/>
<circle cx="354.9" cy="762.7" r="7.6"/>
<circle cx="335.5" cy="586.0" r="7.6"/>
<circle cx="338.0" cy="611.5" r="7.6"/>
<circle cx="389.4" cy="640.1" r="7.6"/>
<circle cx="337.0" cy="607.7" r="7.6"/>
<circle cx="322.0" cy="620.5" r="7.6"/>
<circle cx="370.9" cy="754.8" r="7.6"/>
<circle cx="302.7" cy="675.5" r="7.6"/>
<circle cx="338.5" cy="616.6" r="7.6"/>
<circle cx="371.4" cy="711.5" r="7.6"/>
<circle cx="318.3" cy="610.6" r="7.6"/>
<circle cx="331.2" cy="731.6" r="7.6"/>
<circle cx="399.1" cy="670.8" r="7.6"/>
<circle cx="365.4" cy="742.8" r="7.6"/>
<circle cx="316.0" cy="676.0" r="7.6"/>
<circle cx="306.9" cy="669.9" r="7.6"/>
<circle cx="395.3" cy="770.5" r="7.6"/>
<circle cx="318.3" cy="662.4" r="7.6"/>
<circle cx="382.3" cy="738.9" r="7.6"/>
<circle cx="400.5" cy="761.6" r="7.6"/>
<circle cx="373.5" cy="719.6" r="7.6"/>
<circle cx="394.4" cy="736.6" r="7.6"/>
<circle cx="320.7" cy="744.3" r="7.6"/>
<circle cx="371.1" cy="725.8" r="7.6"/>
<circle cx="313.9" cy="654.9" r="7.6"/>
<circle cx="382.2" cy="767.7" r="7.6"/>
<circle cx="397.6" cy="632.3" r="7.6"/>
<circle cx="378.3" cy="617.1" r="7.6"/>
<circle cx="346.1" cy="767.8" r="7.6"/>
<circle cx="387.1" cy="607.8" r="7.6"/>
<circle cx="323.3" cy="704.5" r="7.6"/>
<circle cx="366.3" cy="710.6" r="7.6"/>
<circle cx="326.8" cy="692.4" r="7.6"/>
<circle cx="389.4" cy="760.2" r="7.6"/>
<circle cx="342.2" cy="702.0" r="7.6"/>
<circle cx="297.7" cy="707.0" r="7.6"/>
<circle cx="337.3" cy="680.7" r="7.6"/>
<circle cx="397.6" cy="726.2" r="7.6"/>
<circle cx="338.3" cy="759.7" r="7.6"/>
<circle cx="305.7" cy="583.8" r="7.6"/>
<circle cx="308.9" cy="720.4" r="7.6"/>
<circle cx="383.8" cy="678.2" r="7.6"/>
<circle cx="306.0" cy="599.8" r="7.6"/>
<circle cx="392.7" cy="751.7" r="7.6"/>
<circle cx="339.6" cy="804.3" r="7.6"/>
<circle cx="339.5" cy="722.2" r="7.6"/>
<circle cx="365.7" cy="811.2" r="7.6"/>
<circle cx="411.4" cy="688.4" r="7.6"/>
<circle cx="299.2" cy="660.8" r="7.6"/>
<circle cx="378.4" cy="682.2" r="7.6"/>
<circle cx="310.5" cy="664.2" r="7.6"/>
<circle cx="390.1" cy="756.7" r="7.6"/>
<circle cx="306.0" cy="759.4" r="7.6"/>
<circle cx="336.5" cy="649.1" r="7.6"/>
<circle cx="376.5" cy="690.8" r="7.6"/>
<circle cx="383.6" cy="641.1" r="7.6"/>
<circle cx="302.3" cy="632.3" r="7.6"/>
<circle cx="350.0" cy="808.5" r="7.6"/>
<circle cx="317.2" cy="666.7" r="7.6"/>
<circle cx="341.9" cy="635.3" r="7.6"/>
<circle cx="371.9" cy="771.2" r="7.6"/>
<circle cx="322.5" cy="686.0" r="7.6"/>
<circle cx="330.0" cy="636.3" r="7.6"/>
<circle cx="382.4" cy="635.3" r="7.6"/>
<circle cx="378.2" cy="656.0" r="7.6"/>
<circle cx="370.7" cy="679.6" r="7.6"/>
<circle cx="312.8" cy="771.6" r="7.6"/>
<circle cx="325.7" cy="675.2" r="7.6"/>
<circle cx="393.7" cy="654.9" r="7.6"/>
<circle cx="399.0" cy="756.3" r="7.6"/>
<circle cx="354.3" cy="794.9" r="7.6"/>
<circle cx="380.9" cy="681.9" r="7.6"/>
<circle cx="392.2" cy="668.1" r="7.6"/>
<circle cx="338.0" cy="792.1" r="7.6"/>
<circle cx="411.4" cy="721.5" r="7.6"/>
<circle cx="309.3" cy="619.9" r="7.6"/>
<circle cx="333.8" cy="766.2" r="7.6"/>
<circle cx="331.8" cy="686.4" r="7.6"/>
<circle cx="310.0" cy="742.6" r="7.6"/>
<circle cx="422.6" cy="682.9" r="7.6"/>
<circle cx="399.3" cy="644.1" r="7.6"/>
<circle cx="382.8" cy="656.8" r="7.6"/>
<circle cx="414.9" cy="675.1" r="7.6"/>
<circle cx="310.1" cy="771.6" r="7.6"/>
<circle cx="298.4" cy="666.1" r="7.6"/>
<circle cx="411.9" cy="672.9" r="7.6"/>
<circle cx="302.8" cy="619.3" r="7.6"/>
<circle cx="411.0" cy="721.2" r="7.6"/>
<circle cx="318.9" cy="728.2" r="7.6"/>
<circle cx="319.5" cy="632.6" r="7.6"/>
<circle cx="337.7" cy="689.0" r="7.6"/>
<circle cx="402.5" cy="749.3" r="7.6"/>
<circle cx="337.0" cy="778.6" r="7.6"/>
<circle cx="389.1" cy="732.1" r="7.6"/>
<circle cx="339.9" cy="596.9" r="7.6"/>
<circle cx="399.2" cy="683.1" r="7.6"/>
<circle cx="389.7" cy="787.4" r="7.6"/>
<circle cx="341.1" cy="643.9" r="7.6"/>
<circle cx="302.5" cy="604.9" r="7.6"/>
<circle cx="403.1" cy="631.4" r="7.6"/>
<circle cx="308.5" cy="690.6" r="7.6"/>
<circle cx="344.9" cy="755.9" r="7.6"/>
<circle cx="398.4" cy="751.3" r="7.6"/>
<circle cx="379.4" cy="630.7" r="7.6"/>
<circle cx="305.9" cy="606.2" r="7.6"/>
<circle cx="324.3" cy="782.0" r="7.6"/>
<circle cx="375.8" cy="657.1" r="7.6"/>
<circle cx="372.0" cy="697.8" r="7.6"/>
<circle cx="398.6" cy="718.8" r="7.6"/>
<circle cx="324.9" cy="661.1" r="7.6"/>
<circle cx="410.5" cy="658.5" r="7.6"/>
<circle cx="364.0" cy="749.7" r="7.6"/>
<circle cx="382.9" cy="724.0" r="7.6"/>
<circle cx="408.7" cy="627.3" r="7.6"/>
<circle cx="318.2" cy="732.6" r="7.6"/>
<circle cx="394.1" cy="707.5" r="7.6"/>
<circle cx="374.0" cy="802.9" r="7.6"/>
<circle cx="393.8" cy="652.2" r="7.6"/>
<circle cx="377.8" cy="765.8" r="7.6"/>
<circle cx="386.4" cy="676.9" r="7.6"/>
<circle cx="319.6" cy="607.7" r="7.6"/>
<circle cx="320.2" cy="779.0" r="7.6"/>
<circle cx="394.3" cy="737.7" r="7.6"/>
<circle cx="343.9" cy="788.6" r="7.6"/>
<circle cx="385.4" cy="724.4" r="7.6"/>
<circle cx="400.6" cy="760.3" r="7.6"/>
<circle cx="348.0" cy="793.5" r="7.6"/>
<circle cx="325.8" cy="667.0" r="7.6"/>
<circle cx="366.3" cy="780.2" r="7.6"/>
<circle cx="402.4" cy="639.5" r="7.6"/>
<circle cx="328.7" cy="720.6" r="7.6"/>
<circle cx="318.1" cy="718.1" r="7.6"/>
<circle cx="355.6" cy="759.8" r="7.6"/>
<circle cx="396.4" cy="748.0" r="7.6"/>
<circle cx="325.1" cy="683.0" r="7.6"/>
<circle cx="354.6" cy="790.9" r="7.6"/>
<circle cx="313.8" cy="689.9" r="7.6"/>
<circle cx="317.0" cy="722.4" r="7.6"/>
<circle cx="354.2" cy="748.5" r="7.6"/>
<circle cx="378.8" cy="733.8" r="7.6"/>
<circle cx="308.0" cy="724.8" r="7.6"/>
<circle cx="400.0" cy="722.5" r="7.6"/>
<circle cx="392.6" cy="719.5" r="7.6"/>
<circle cx="406.9" cy="735.1" r="7.6"/>
<circle cx="330.7" cy="659.6" r="7.6"/>
<circle cx="389.4" cy="695.9" r="7.6"/>
<circle cx="322.6" cy="630.3" r="7.6"/>
<circle cx="400.0" cy="767.9" r="7.6"/>
<circle cx="307.4" cy="737.8" r="7.6"/>
<circle cx="311.6" cy="666.7" r="7.6"/>
<circle cx="378.9" cy="750.9" r="7.6"/>
<circle cx="320.8" cy="674.2" r="7.6"/>
<circle cx="322.3" cy="786.0" r="7.6"/>
<circle cx="377.7" cy="650.9" r="7.6"/>
<circle cx="322.7" cy="684.4" r="7.6"/>
<circle cx="413.0" cy="608.5" r="7.6"/>
<circle cx="329.8" cy="619.6" r="7.6"/>
<circle cx="318.6" cy="583.9" r="7.6"/>
<circle cx="391.4" cy="639.2" r="7.6"/>
<circle cx="385.3" cy="727.8" r="7.6"/>
<circle cx="302.5" cy="711.4" r="7.6"/>
<circle cx="368.8" cy="739.1" r="7.6"/>
<circle cx="399.9" cy="730.7" r="7.6"/>
<circle cx="408.3" cy="676.5" r="7.6"/>
<circle cx="368.5" cy="789.8" r="7.6"/>
<circle cx="357.4" cy="814.4" r="7.6"/>
<circle cx="317.3" cy="636.9" r="7.6"/>
<circle cx="369.9" cy="736.2" r="7.6"/>
<circle cx="303.0" cy="596.7" r="7.6"/>
<circle cx="384.8" cy="664.4" r="7.6"/>
<circle cx="404.5" cy="739.7" r="7.6"/>
<circle cx="324.3" cy="615.7" r="7.6"/>
<circle cx="315.4" cy="616.9" r="7.6"/>
<circle cx="305.7" cy="631.9" r="7.6"/>
<circle cx="387.9" cy="711.1" r="7.6"/>
<circle cx="341.1" cy="640.0" r="7.6"/>
<circle cx="346.6" cy="734.1" r="7.6"/>
<circle cx="373.5" cy="662.7" r="7.6"/>
<circle cx="301.8" cy="647.5" r="7.6"/>
<circle cx="386.9" cy="663.2" r="7.6"/>
<circle cx="378.6" cy="678.4" r="7.6"/>
<circle cx="308.7" cy="763.9" r="7.6"/>
<circle cx="362.1" cy="793.5" r="7.6"/>
<circle cx="354.5" cy="786.1" r="7.6"/>
<circle cx="357.5" cy="781.6" r="7.6"/>
<circle cx="304.9" cy="755.6" r="7.6"/>
<circle cx="300.1" cy="663.8" r="7.6"/>
<circle cx="380.2" cy="646.6" r="7.6"/>
<circle cx="374.9" cy="768.2" r="7.6"/>
<circle cx="298.7" cy="713.7" r="7.6"/>
<circle cx="343.7" cy="736.8" r="7.6"/>
<circle cx="384.8" cy="708.3" r="7.6"/>
<circle cx="342.4" cy="693.9" r="7.6"/>
<circle cx="384.6" cy="738.1" r="7.6"/>
<circle cx="419.8" cy="670.6" r="7.6"/>
<circle cx="379.9" cy="686.4" r="7.6"/>
<circle cx="412.0" cy="718.4" r="7.6"/>
<circle cx="310.7" cy="752.6" r="7.6"/>
<circle cx="338.6" cy="714.0" r="7.6"/>
<circle cx="323.6" cy="759.7" r="7.6"/>
<circle cx="312.9" cy="595.4" r="7.6"/>
<circle cx="361.9" cy="753.7" r="7.6"/>
<circle cx="336.8" cy="729.9" r="7.6"/>
<circle cx="346.9" cy="717.8" r="7.6"/>
<circle cx="326.3" cy="771.0" r="7.6"/>
<circle cx="385.0" cy="610.8" r="7.6"/>
<circle cx="370.7" cy="696.9" r="7.6"/>
<circle cx="321.3" cy="707.8" r="7.6"/>
<circle cx="324.0" cy="670.1" r="7.6"/>
<circle cx="338.8" cy="698.3" r="7.6"/>
<circle cx="343.9" cy="667.1" r="7.6"/>
<circle cx="311.6" cy="632.1" r="7.6"/>
<circle cx="347.1" cy="807.2" r="7.6"/>
<circle cx="379.6" cy="743.1" r="7.6"/>
<circle cx="399.5" cy="666.1" r="7.6"/>
<circle cx="323.9" cy="639.5" r="7.6"/>
<circle cx="336.3" cy="656.8" r="7.6"/>
<circle cx="365.4" cy="791.0" r="7.6"/>
<circle cx="306.1" cy="678.6" r="7.6"/>
<circle cx="311.0" cy="726.5" r="7.6"/>
<circle cx="412.9" cy="692.0" r="7.6"/>
<circle cx="321.2" cy="714.7" r="7.6"/>
<circle cx="412.1" cy="633.2" r="7.6"/>
<circle cx="338.0" cy="726.8" r="7.6"/>
<circle cx="388.8" cy="775.4" r="7.6"/>
<circle cx="407.4" cy="656.9" r="7.6"/>
<circle cx="339.5" cy="777.9" r="7.6"/>
<circle cx="397.0" cy="736.6" r="7.6"/>
<circle cx="369.6" cy="806.1" r="7.6"/>
<circle cx="406.0" cy="618.9" r="7.6"/>
<circle cx="303.0" cy="723.6" r="7.6"/>
<circle cx="351.2" cy="798.7" r="7.6"/>
<circle cx="324.7" cy="712.0" r="7.6"/>
<circle cx="335.5" cy="716.1" r="7.6"/>
<circle cx="342.6" cy="742.1" r="7.6"/>
<circle cx="301.7" cy="613.3" r="7.6"/>
<circle cx="336.4" cy="772.3" r="7.6"/>
<circle cx="393.1" cy="615.4" r="7.6"/>
<circle cx="306.2" cy="648.7" r="7.6"/>
<circle cx="387.0" cy="678.1" r="7.6"/>
<circle cx="342.8" cy="712.4" r="7.6"/>
<circle cx="344.0" cy="769.6" r="7.6"/>
<circle cx="319.6" cy="775.5" r="7.6"/>
<circle cx="346.4" cy="690.2" r="7.6"/>
<circle cx="396.9" cy="687.5" r="7.6"/>
<circle cx="415.2" cy="700.0" r="7.6"/>
<circle cx="315.5" cy="735.8" r="7.6"/>
<circle cx="382.7" cy="718.8" r="7.6"/>
<circle cx="409.8" cy="715.0" r="7.6"/>
<circle cx="394.3" cy="773.6" r="7.6"/>
<circle cx="370.7" cy="729.9" r="7.6"/>
<circle cx="340.7" cy="593.5" r="7.6"/>
<circle cx="307.0" cy="700.3" r="7.6"/>
<circle cx="387.1" cy="704.6" r="7.6"/>
<circle cx="373.5" cy="724.6" r="7.6"/>
<circle cx="330.9" cy="764.7" r="7.6"/>
<circle cx="370.8" cy="778.0" r="7.6"/>
<circle cx="301.8" cy="669.1" r="7.6"/>
<circle cx="325.1" cy="642.3" r="7.6"/>
<circle cx="333.9" cy="760.6" r="7.6"/>
<circle cx="366.2" cy="783.9" r="7.6"/>
<circle cx="341.1" cy="652.7" r="7.6"/>
<circle cx="376.8" cy="780.1" r="7.6"/>
<circle cx="413.4" cy="705.9" r="7.6"/>
<circle cx="362.4" cy="810.8" r="7.6"/>
<circle cx="379.6" cy="626.6" r="7.6"/>
<circle cx="407.9" cy="723.2" r="7.6"/>
<circle cx="323.3" cy="720.7" r="7.6"/>
<circle cx="384.8" cy="761.8" r="7.6"/>
<circle cx="333.3" cy="592.9" r="7.6"/>
<circle cx="329.9" cy="706.9" r="7.6"/>
<circle cx="336.6" cy="700.4" r="7.6"/>
<circle cx="311.6" cy="653.9" r="7.6"/>
<circle cx="339.0" cy="768.3" r="7.6"/>
<circle cx="373.5" cy="782.7" r="7.6"/>
<circle cx="313.1" cy="708.9" r="7.6"/>
<circle cx="374.2" cy="760.7" r="7.6"/>
<circle cx="309.0" cy="596.0" r="7.6"/>
<circle cx="304.3" cy="655.7" r="7.6"/>
<circle cx="383.7" cy="694.5" r="7.6"/>
<circle cx="414.0" cy="625.5" r="7.6"/>
<circle cx="368.1" cy="684.4" r="7.6"/>
<circle cx="320.9" cy="760.0" r="7.6"/>
<circle cx="316.6" cy="715.6" r="7.6"/>
<circle cx="314.4" cy="608.7" r="7.6"/>
<circle cx="313.4" cy="638.9" r="7.6"/>
<circle cx="301.9" cy="738.2" r="7.6"/>
<circle cx="391.6" cy="702.9" r="7.6"/>
<circle cx="352.3" cy="750.4" r="7.6"/>
<circle cx="365.1" cy="721.7" r="7.6"/>
<circle cx="309.3" cy="592.5" r="7.6"/>
<circle cx="325.4" cy="751.5" r="7.6"/>
<circle cx="396.3" cy="679.3" r="7.6"/>
<circle cx="396.4" cy="666.6" r="7.6"/>
<circle cx="377.8" cy="715.8" r="7.6"/>
<circle cx="412.7" cy="627.9" r="7.6"/>
<circle cx="331.6" cy="595.4" r="7.6"/>
<circle cx="329.5" cy="754.4" r="7.6"/>
<circle cx="336.0" cy="627.0" r="7.6"/>
<circle cx="350.2" cy="809.6" r="7.6"/>
<circle cx="326.6" cy="652.2" r="7.6"/>
<circle cx="300.4" cy="685.9" r="7.6"/>
<circle cx="407.5" cy="624.8" r="7.6"/>
<circle cx="367.4" cy="786.4" r="7.6"/>
<circle cx="320.1" cy="731.2" r="7.6"/>
<circle cx="337.9" cy="720.4" r="7.6"/>
<circle cx="320.2" cy="634.4" r="7.6"/>
<circle cx="389.0" cy="790.5" r="7.6"/>
<circle cx="312.1" cy="584.4" r="7.6"/>
<circle cx="332.4" cy="617.0" r="7.6"/>
<circle cx="375.5" cy="649.3" r="7.6"/>
<circle cx="368.5" cy="723.5" r="7.6"/>
<circle cx="381.6" cy="692.8" r="7.6"/>
<circle cx="375.8" cy="666.5" r="7.6"/>
<circle cx="357.0" cy="755.8" r="7.6"/>
<circle cx="339.2" cy="591.6" r="7.6"/>
<circle cx="301.7" cy="727.4" r="7.6"/>
<circle cx="328.1" cy="795.9" r="7.6"/>
<circle cx="374.3" cy="702.8" r="7.6"/>
<circle cx="310.0" cy="622.9" r="7.6"/>
<circle cx="380.1" cy="796.3" r="7.6"/>
<circle cx="379.1" cy="639.6" r="7.6"/>
<circle cx="403.0" cy="679.4" r="7.6"/>
<circle cx="398.2" cy="760.0" r="7.6"/>
<circle cx="404.5" cy="706.7" r="7.6"/>
<circle cx="341.3" cy="690.8" r="7.6"/>
<circle cx="400.7" cy="712.4" r="7.6"/>
<circle cx="316.1" cy="742.3" r="7.6"/>
<circle cx="359.8" cy="747.6" r="7.6"/>
<circle cx="390.1" cy="692.2" r="7.6"/>
<circle cx="409.9" cy="706.5" r="7.6"/>
<circle cx="377.5" cy="722.8" r="7.6"/>
<circle cx="378.5" cy="671.0" r="7.6"/>
<circle cx="402.8" cy="654.4" r="7.6"/>
<circle cx="338.1" cy="591.1" r="7.6"/>
<circle cx="341.4" cy="688.6" r="7.6"/>
<circle cx="337.4" cy="783.2" r="7.6"/>
<circle cx="343.3" cy="661.2" r="7.6"/>
<circle cx="408.3" cy="718.7" r="7.6"/>
<circle cx="340.9" cy="752.3" r="7.6"/>
<circle cx="297.3" cy="699.5" r="7.6"/>
<circle cx="394.4" cy="632.1" r="7.6"/>
<circle cx="413.8" cy="660.7" r="7.6"/>
<circle cx="364.7" cy="730.8" r="7.6"/>
<circle cx="385.4" cy="667.3" r="7.6"/>
<circle cx="309.7" cy="704.0" r="7.6"/>
<circle cx="339.6" cy="763.9" r="7.6"/>
<circle cx="315.8" cy="586.4" r="7.6"/>
<circle cx="348.6" cy="718.2" r="7.6"/>
<circle cx="346.1" cy="760.0" r="7.6"/>
<circle cx="368.4" cy="807.9" r="7.6"/>
<circle cx="410.6" cy="683.1" r="7.6"/>
<circle cx="366.2" cy="703.3" r="7.6"/>
<circle cx="324.1" cy="679.8" r="7.6"/>
<circle cx="382.8" cy="772.1" r="7.6"/>
<circle cx="311.3" cy="712.8" r="7.6"/>
<circle cx="396.6" cy="610.4" r="7.6"/>
<circle cx="422.1" cy="681.1" r="7.6"/>
<circle cx="382.2" cy="686.4" r="7.6"/>
<circle cx="332.5" cy="742.1" r="7.6"/>
<circle cx="405.8" cy="672.1" r="7.6"/>
<circle cx="380.7" cy="791.9" r="7.6"/>
<circle cx="342.1" cy="759.6" r="7.6"/>
<circle cx="387.4" cy="736.4" r="7.6"/>
<circle cx="371.1" cy="689.0" r="7.6"/>
<circle cx="320.4" cy="628.9" r="7.6"/>
<circle cx="396.2" cy="659.6" r="7.6"/>
<circle cx="318.9" cy="686.6" r="7.6"/>
<circle cx="380.2" cy="704.5" r="7.6"/>
<circle cx="334.3" cy="588.3" r="7.6"/>
<circle cx="329.3" cy="758.5" r="7.6"/>
<circle cx="340.4" cy="658.8" r="7.6"/>
<circle cx="394.4" cy="696.4" r="7.6"/>
<circle cx="389.6" cy="740.0" r="7.6"/>
<circle cx="378.4" cy="798.4" r="7.6"/>
<circle cx="347.1" cy="751.1" r="7.6"/>
<circle cx="369.5" cy="768.6" r="7.6"/>
<circle cx="374.9" cy="791.6" r="7.6"/>
<circle cx="399.6" cy="692.9" r="7.6"/>
<circle cx="412.5" cy="678.0" r="7.6"/>
<circle cx="374.2" cy="799.4" r="7.6"/>
<circle cx="341.5" cy="597.1" r="7.6"/>
<circle cx="402.1" cy="664.3" r="7.6"/>
<circle cx="318.4" cy="660.1" r="7.6"/>
<circle cx="395.7" cy="713.8" r="7.6"/>
<circle cx="406.7" cy="726.3" r="7.6"/>
<circle cx="370.4" cy="664.9" r="7.6"/>
<circle cx="335.4" cy="653.1" r="7.6"/>
<circle cx="325.4" cy="708.9" r="7.6"/>
<circle cx="388.9" cy="615.9" r="7.6"/>
<circle cx="340.9" cy="626.3" r="7.6"/>
<circle cx="397.8" cy="774.7" r="7.6"/>
<circle cx="305.4" cy="624.2" r="7.6"/>
<circle cx="354.8" cy="768.2" r="7.6"/>
<circle cx="378.2" cy="760.4" r="7.6"/>
<circle cx="313.2" cy="604.8" r="7.6"/>
<circle cx="397.2" cy="704.1" r="7.6"/>
<circle cx="317.7" cy="779.0" r="7.6"/>
<circle cx="310.6" cy="686.7" r="7.6"/>
<circle cx="380.3" cy="783.9" r="7.6"/>
<circle cx="419.8" cy="697.8" r="7.6"/>
<circle cx="335.8" cy="793.5" r="7.6"/>
<circle cx="334.0" cy="667.2" r="7.6"/>
<circle cx="373.0" cy="735.2" r="7.6"/>
<circle cx="392.5" cy="783.4" r="7.6"/>
<circle cx="318.2" cy="712.3" r="7.6"/>
<circle cx="394.1" cy="786.1" r="7.6"/>
<circle cx="381.1" cy="636.3" r="7.6"/>
<circle cx="411.7" cy="616.5" r="7.6"/>
<circle cx="304.0" cy="640.6" r="7.6"/>
<circle cx="318.5" cy="651.9" r="7.6"/>
<circle cx="398.5" cy="613.2" r="7.6"/>
<circle cx="332.7" cy="647.5" r="7.6"/>
<circle cx="311.3" cy="640.6" r="7.6"/>
<circle cx="304.8" cy="707.0" r="7.6"/>
<circle cx="314.4" cy="678.6" r="7.6"/>
<circle cx="387.8" cy="791.8" r="7.6"/>
<circle cx="414.3" cy="683.6" r="7.6"/>
<circle cx="329.1" cy="791.7" r="7.6"/>
<circle cx="302.9" cy="597.6" r="7.6"/>
<circle cx="413.2" cy="715.6" r="7.6"/>
<circle cx="321.8" cy="739.4" r="7.6"/>
<circle cx="331.9" cy="611.5" r="7.6"/>
<circle cx="314.5" cy="709.7" r="7.6"/>
<circle cx="317.3" cy="596.1" r="7.6"/>
<circle cx="403.7" cy="694.0" r="7.6"/>
<circle cx="324.2" cy="648.2" r="7.6"/>
<circle cx="363.2" cy="761.6" r="7.6"/>
<circle cx="353.2" cy="813.4" r="7.6"/>
<circle cx="401.0" cy="735.9" r="7.6"/>
<circle cx="302.7" cy="684.3" r="7.6"/>
<circle cx="331.9" cy="624.9" r="7.6"/>
<circle cx="313.9" cy="703.6" r="7.6"/>
<circle cx="302.5" cy="642.6" r="7.6"/>
<circle cx="393.1" cy="624.1" r="7.6"/>
<circle cx="325.8" cy="698.1" r="7.6"/>
<circle cx="309.3" cy="713.7" r="7.6"/>
<circle cx="302.1" cy="634.1" r="7.6"/>
<circle cx="297.0" cy="691.6" r="7.6"/>
<circle cx="338.1" cy="670.0" r="7.6"/>
<circle cx="329.8" cy="686.8" r="7.6"/>
<circle cx="374.2" cy="696.6" r="7.6"/>
<circle cx="302.4" cy="600.5" r="7.6"/>
<circle cx="378.6" cy="774.3" r="7.6"/>
<circle cx="339.2" cy="769.5" r="7.6"/>
<circle cx="321.6" cy="651.3" r="7.6"/>
<circle cx="359.3" cy="811.7" r="7.6"/>
<circle cx="400.8" cy="748.4" r="7.6"/>
<circle cx="308.7" cy="755.6" r="7.6"/>
<circle cx="362.8" cy="801.8" r="7.6"/>
<circle cx="414.1" cy="615.4" r="7.6"/>
<circle cx="391.7" cy="613.3" r="7.6"/>
<circle cx="402.7" cy="648.3" r="7.6"/>
<circle cx="300.7" cy="703.2" r="7.6"/>
<circle cx="297.0" cy="683.5" r="7.6"/>
<circle cx="348.1" cy="803.9" r="7.6"/>
<circle cx="326.5" cy="731.8" r="7.6"/>
<circle cx="392.6" cy="759.4" r="7.6"/>
<circle cx="320.2" cy="623.8" r="7.6"/>
<circle cx="336.2" cy="596.0" r="7.6"/>
<circle cx="365.7" cy="736.0" r="7.6"/>
<circle cx="307.1" cy="674.4" r="7.6"/>
<circle cx="320.7" cy="605.0" r="7.6"/>
<circle cx="383.1" cy="790.8" r="7.6"/>
<circle cx="386.9" cy="646.6" r="7.6"/>
<circle cx="301.2" cy="731.3" r="7.6"/>
<circle cx="300.0" cy="678.6" r="7.6"/>
<circle cx="307.3" cy="613.1" r="7.6"/>
<circle cx="330.3" cy="715.3" r="7.6"/>
<circle cx="315.0" cy="623.4" r="7.6"/>
<circle cx="413.5" cy="627.0" r="7.6"/>
<circle cx="318.0" cy="598.3" r="7.6"/>
<circle cx="398.8" cy="656.7" r="7.6"/>
<circle cx="348.8" cy="748.1" r="7.6"/>
<circle cx="313.9" cy="643.8" r="7.6"/>
<circle cx="396.2" cy="684.5" r="7.6"/>
<circle cx="405.1" cy="667.1" r="7.6"/>
<circle cx="344.3" cy="700.5" r="7.6"/>
<circle cx="362.1" cy="779.8" r="7.6"/>
<circle cx="416.0" cy="666.3" r="7.6"/>
<circle cx="308.7" cy="668.2" r="7.6"/>
<circle cx="331.8" cy="775.9" r="7.6"/>
<circle cx="394.5" cy="763.1" r="7.6"/>
<circle cx="326.6" cy="763.0" r="7.6"/>
<circle cx="394.1" cy="778.0" r="7.6"/>
<circle cx="311.4" cy="759.0" r="7.6"/>
<circle cx="327.5" cy="711.4" r="7.6"/>
<circle cx="366.1" cy="708.5" r="7.6"/>
<circle cx="302.1" cy="742.7" r="7.6"/>
<circle cx="381.8" cy="779.8" r="7.6"/>
<circle cx="358.7" cy="778.2" r="7.6"/>
<circle cx="334.3" cy="707.0" r="7.6"/>
<circle cx="391.4" cy="745.8" r="7.6"/>
<circle cx="339.4" cy="740.0" r="7.6"/>
<circle cx="354.7" cy="744.8" r="7.6"/>
<circle cx="389.6" cy="698.2" r="7.6"/>
<circle cx="308.6" cy="679.6" r="7.6"/>
<circle cx="345.8" cy="803.2" r="7.6"/>
<circle cx="371.6" cy="796.3" r="7.6"/>
<circle cx="397.3" cy="711.2" r="7.6"/>
<circle cx="394.5" cy="742.5" r="7.6"/>
<circle cx="329.1" cy="774.1" r="7.6"/>
<circle cx="313.6" cy="700.2" r="7.6"/>
<circle cx="389.2" cy="780.1" r="7.6"/>
<circle cx="304.7" cy="691.1" r="7.6"/>
<circle cx="322.6" cy="698.3" r="7.6"/>
<circle cx="360.1" cy="782.4" r="7.6"/>
<circle cx="375.7" cy="670.6" r="7.6"/>
<circle cx="297.7" cy="715.6" r="7.6"/>
<circle cx="368.7" cy="720.1" r="7.6"/>
<circle cx="338.5" cy="742.3" r="7.6"/>
<circle cx="301.6" cy="650.0" r="7.6"/>
<circle cx="398.7" cy="698.1" r="7.6"/>
<circle cx="324.8" cy="621.1" r="7.6"/>
<circle cx="405.8" cy="741.7" r="7.6"/>
<circle cx="350.5" cy="736.6" r="7.6"/>
<circle cx="305.3" cy="743.3" r="7.6"/>
<circle cx="405.4" cy="711.4" r="7.6"/>
<circle cx="312.7" cy="683.2" r="7.6"/>
<circle cx="320.3" cy="735.3" r="7.6"/>
<circle cx="352.6" cy="775.8" r="7.6"/>
<circle cx="322.6" cy="586.8" r="7.6"/>
<circle cx="346.1" cy="681.4" r="7.6"/>
<circle cx="370.5" cy="800.1" r="7.6"/>
<circle cx="368.2" cy="677.4" r="7.6"/>
<circle cx="390.7" cy="651.2" r="7.6"/>
<circle cx="332.2" cy="719.0" r="7.6"/>
<circle cx="343.8" cy="781.8" r="7.6"/>
<circle cx="376.0" cy="751.6" r="7.6"/>
<circle cx="343.1" cy="747.2" r="7.6"/>
<circle cx="417.1" cy="670.6" r="7.6"/>
<circle cx="316.4" cy="388.3" r="7.6"/>
<circle cx="317.5" cy="398.5" r="7.6"/>
<circle cx="323.7" cy="400.5" r="7.6"/>
<circle cx="306.7" cy="457.1" r="7.6"/>
<circle cx="311.6" cy="465.2" r="7.6"/>
<circle cx="318.8" cy="463.6" r="7.6"/>
<circle cx="322.9" cy="468.4" r="7.6"/>
<circle cx="326.1" cy="474.9" r="7.6"/>
<circle cx="313.5" cy="485.1" r="7.6"/>
<circle cx="326.6" cy="503.2" r="7.6"/>
<circle cx="309.1" cy="526.7" r="7.6"/>
<circle cx="322.9" cy="525.9" r="7.6"/>
<circle cx="328.5" cy="528.3" r="7.6"/>
<circle cx="336.6" cy="530.7" r="7.6"/>
<circle cx="331.8" cy="534.8" r="7.6"/>
<circle cx="318.8" cy="538.0" r="7.6"/>
<circle cx="314.0" cy="541.2" r="7.6"/>
<circle cx="307.5" cy="544.5" r="7.6"/>
<circle cx="339.9" cy="547.7" r="7.6"/>
<circle cx="335.0" cy="550.9" r="7.6"/>
<circle cx="325.3" cy="547.7" r="7.6"/>
<circle cx="328.5" cy="555.8" r="7.6"/>
<circle cx="312.4" cy="554.2" r="7.6"/>
<circle cx="320.5" cy="559.0" r="7.6"/>
<circle cx="309.1" cy="563.9" r="7.6"/>
<circle cx="322.1" cy="568.7" r="7.6"/>
<circle cx="314.8" cy="572.0" r="7.6"/>
<circle cx="307.5" cy="576.8" r="7.6"/>
<circle cx="318.0" cy="565.0" r="7.6"/>
<circle cx="333.0" cy="560.0" r="7.6"/>
<circle cx="338.0" cy="566.0" r="7.6"/>
<circle cx="326.0" cy="577.0" r="7.6"/>
<circle cx="318.0" cy="580.0" r="7.6"/>
<circle cx="305.0" cy="585.0" r="7.6"/>
<circle cx="334.0" cy="584.0" r="7.6"/>
<circle cx="316.5" cy="533.5" r="7.6"/>
<circle cx="330.0" cy="540.5" r="7.6"/>
<circle cx="322.5" cy="543.5" r="7.6"/>
<circle cx="310.0" cy="549.5" r="7.6"/>
<circle cx="333.5" cy="545.5" r="7.6"/>
<circle cx="324.5" cy="556.0" r="7.6"/>
<circle cx="313.0" cy="559.0" r="7.6"/>
<circle cx="331.0" cy="563.5" r="7.6"/>
<circle cx="316.5" cy="566.0" r="7.6"/>
<circle cx="327.0" cy="571.5" r="7.6"/>
<circle cx="311.0" cy="569.5" r="7.6"/>
<circle cx="321.5" cy="575.5" r="7.6"/>
<circle cx="336.0" cy="555.5" r="7.6"/>
<circle cx="306.0" cy="570.0" r="7.6"/>
<circle cx="330.5" cy="579.0" r="7.6"/>
<circle cx="312.0" cy="577.5" r="7.6"/>
<circle cx="408.6" cy="500.0" r="7.6"/>
<circle cx="393.3" cy="520.2" r="7.6"/>
<circle cx="407.8" cy="526.7" r="7.6"/>
<circle cx="400.6" cy="530.7" r="7.6"/>
<circle cx="407.8" cy="535.6" r="7.6"/>
<circle cx="404.6" cy="559.8" r="7.6"/>
<circle cx="407.8" cy="554.2" r="7.6"/>
<circle cx="390.0" cy="573.6" r="7.6"/>
<circle cx="404.6" cy="568.7" r="7.6"/>
<circle cx="398.1" cy="575.2" r="7.6"/>
<circle cx="407.8" cy="576.8" r="7.6"/>
<circle cx="390.0" cy="586.5" r="7.6"/>
<circle cx="403.0" cy="584.9" r="7.6"/>
<circle cx="396.5" cy="589.8" r="7.6"/>
<circle cx="383.6" cy="602.7" r="7.6"/>
<circle cx="393.3" cy="599.5" r="7.6"/>
<circle cx="407.8" cy="594.6" r="7.6"/>
<circle cx="375.5" cy="614.0" r="7.6"/>
<circle cx="383.5" cy="612.0" r="7.6"/>
<circle cx="388.0" cy="596.0" r="7.6"/>
<circle cx="409.0" cy="603.0" r="7.6"/>
<circle cx="404.0" cy="606.0" r="7.6"/>
<circle cx="397.0" cy="608.0" r="7.6"/>
<circle cx="402.5" cy="563.5" r="7.6"/>
<circle cx="396.0" cy="568.5" r="7.6"/>
<circle cx="401.5" cy="572.5" r="7.6"/>
<circle cx="393.5" cy="579.5" r="7.6"/>
<circle cx="406.5" cy="582.0" r="7.6"/>
<circle cx="387.0" cy="580.0" r="7.6"/>
<circle cx="385.5" cy="592.5" r="7.6"/>
<circle cx="391.5" cy="593.0" r="7.6"/>
<circle cx="399.0" cy="593.5" r="7.6"/>
<circle cx="409.0" cy="588.0" r="7.6"/>
<circle cx="380.5" cy="606.5" r="7.6"/>
<circle cx="387.5" cy="604.0" r="7.6"/>
<circle cx="408.5" cy="545.5" r="7.6"/>
<circle cx="397.0" cy="526.0" r="7.6"/>
<circle cx="220.2" cy="675.2" r="7.6"/>
<circle cx="220.2" cy="698.5" r="7.6"/>
<circle cx="246.6" cy="671.3" r="7.6"/>
<circle cx="245.3" cy="675.2" r="7.6"/>
<circle cx="251.8" cy="666.1" r="7.6"/>
<circle cx="259.5" cy="686.9" r="7.6"/>
<circle cx="264.7" cy="690.7" r="7.6"/>
<circle cx="268.6" cy="667.4" r="7.6"/>
<circle cx="272.5" cy="668.7" r="7.6"/>
<circle cx="285.4" cy="673.9" r="7.6"/>
<circle cx="282.8" cy="681.7" r="7.6"/>
<circle cx="245.3" cy="703.7" r="7.6"/>
<circle cx="251.8" cy="712.8" r="7.6"/>
<circle cx="240.1" cy="720.5" r="7.6"/>
<circle cx="250.0" cy="733.5" r="7.6"/>
<circle cx="269.9" cy="742.5" r="7.6"/>
<circle cx="266.0" cy="754.2" r="7.6"/>
<circle cx="280.3" cy="759.4" r="7.6"/>
<circle cx="282.8" cy="767.1" r="7.6"/>
<circle cx="291.9" cy="769.7" r="7.6"/>
<circle cx="290.6" cy="761.9" r="7.6"/>
<circle cx="284.1" cy="708.9" r="7.6"/>
<circle cx="285.4" cy="715.3" r="7.6"/>
<circle cx="282.8" cy="728.3" r="7.6"/>
<circle cx="288.0" cy="738.6" r="7.6"/>
<circle cx="303.6" cy="785.2" r="7.6"/>
<circle cx="319.1" cy="795.6" r="7.6"/>
<circle cx="256.0" cy="676.0" r="7.6"/>
<circle cx="276.0" cy="676.5" r="7.6"/>
<circle cx="262.0" cy="672.0" r="7.6"/>
<circle cx="461.5" cy="679.6" r="7.6"/>
<circle cx="443.4" cy="681.7" r="7.6"/>
<circle cx="446.0" cy="670.0" r="7.6"/>
<circle cx="438.2" cy="673.9" r="7.6"/>
<circle cx="449.8" cy="697.2" r="7.6"/>
<circle cx="435.6" cy="689.4" r="7.6"/>
<circle cx="435.6" cy="715.3" r="7.6"/>
<circle cx="427.8" cy="712.8" r="7.6"/>
<circle cx="425.2" cy="705.0" r="7.6"/>
<circle cx="430.4" cy="728.3" r="7.6"/>
<circle cx="422.7" cy="736.0" r="7.6"/>
<circle cx="417.5" cy="751.6" r="7.6"/>
<circle cx="401.9" cy="787.8" r="7.6"/>
<circle cx="404.5" cy="780.0" r="7.6"/>
<circle cx="431.0" cy="668.0" r="7.6"/>
<circle cx="440.0" cy="690.0" r="7.6"/>
<circle cx="429.0" cy="697.0" r="7.6"/>
<circle cx="426.5" cy="707.5" r="7.6"/>
<circle cx="432.5" cy="712.5" r="7.6"/>
<circle cx="437.5" cy="715.5" r="7.6"/>
<circle cx="430.0" cy="719.0" r="7.6"/>
<circle cx="427.0" cy="730.5" r="7.6"/>
<circle cx="430.5" cy="735.0" r="7.6"/>
<circle cx="423.5" cy="743.0" r="7.6"/>
<circle cx="433.0" cy="674.5" r="7.6"/>
<circle cx="437.5" cy="681.0" r="7.6"/>
</g>
<g fill="#00cd00" fill-opacity="0.7">
<circle cx="233.7" cy="319.1" r="7.6"/>
<circle cx="290.4" cy="353.1" r="7.6"/>
<circle cx="291.9" cy="358.0" r="7.6"/>
<circle cx="223.6" cy="364.8" r="7.6"/>
<circle cx="299.7" cy="403.2" r="7.6"/>
<circle cx="295.2" cy="412.9" r="7.6"/>
<circle cx="252.7" cy="430.8" r="7.6"/>
<circle cx="290.0" cy="440.1" r="7.6"/>
<circle cx="291.0" cy="459.5" r="7.6"/>
<circle cx="237.6" cy="475.8" r="7.6"/>
<circle cx="207.1" cy="477.0" r="7.6"/>
<circle cx="208.4" cy="482.8" r="7.6"/>
<circle cx="105.9" cy="486.1" r="7.6"/>
<circle cx="285.7" cy="483.2" r="7.6"/>
<circle cx="298.7" cy="484.2" r="7.6"/>
<circle cx="287.1" cy="493.9" r="7.6"/>
<circle cx="296.8" cy="501.7" r="7.6"/>
<circle cx="285.1" cy="506.1" r="7.6"/>
<circle cx="293.9" cy="516.2" r="7.6"/>
<circle cx="301.0" cy="514.3" r="7.6"/>
<circle cx="255.0" cy="514.7" r="7.6"/>
<circle cx="167.3" cy="526.9" r="7.6"/>
<circle cx="268.3" cy="525.3" r="7.6"/>
<circle cx="270.6" cy="535.2" r="7.6"/>
<circle cx="237.0" cy="546.3" r="7.6"/>
<circle cx="298.7" cy="550.2" r="7.6"/>
<circle cx="294.9" cy="557.0" r="7.6"/>
<circle cx="255.0" cy="561.8" r="7.6"/>
<circle cx="250.2" cy="565.7" r="7.6"/>
<circle cx="258.9" cy="562.8" r="7.6"/>
<circle cx="294.9" cy="565.7" r="7.6"/>
<circle cx="273.5" cy="574.5" r="7.6"/>
<circle cx="286.5" cy="577.4" r="7.6"/>
<circle cx="263.8" cy="581.3" r="7.6"/>
<circle cx="269.6" cy="581.3" r="7.6"/>
<circle cx="270.6" cy="589.0" r="7.6"/>
<circle cx="298.7" cy="590.0" r="7.6"/>
<circle cx="247.9" cy="592.9" r="7.6"/>
<circle cx="284.2" cy="592.9" r="7.6"/>
<circle cx="290.0" cy="593.9" r="7.6"/>
<circle cx="279.3" cy="598.7" r="7.6"/>
<circle cx="269.6" cy="601.7" r="7.6"/>
<circle cx="286.1" cy="602.6" r="7.6"/>
<circle cx="276.4" cy="608.4" r="7.6"/>
<circle cx="290.0" cy="606.5" r="7.6"/>
<circle cx="299.7" cy="611.7" r="7.6"/>
<circle cx="228.3" cy="613.3" r="7.6"/>
<circle cx="220.1" cy="616.8" r="7.6"/>
<circle cx="291.9" cy="624.0" r="7.6"/>
<circle cx="289.0" cy="627.9" r="7.6"/>
<circle cx="254.7" cy="628.8" r="7.6"/>
<circle cx="258.9" cy="631.7" r="7.6"/>
<circle cx="274.1" cy="629.8" r="7.6"/>
<circle cx="263.8" cy="634.7" r="7.6"/>
<circle cx="293.9" cy="637.6" r="7.6"/>
<circle cx="190.6" cy="645.9" r="7.6"/>
<circle cx="291.9" cy="643.4" r="7.6"/>
<circle cx="281.3" cy="647.3" r="7.6"/>
<circle cx="286.1" cy="649.2" r="7.6"/>
<circle cx="291.9" cy="648.3" r="7.6"/>
<circle cx="261.8" cy="649.8" r="7.6"/>
<circle cx="234.1" cy="653.5" r="7.6"/>
<circle cx="279.3" cy="649.2" r="7.6"/>
<circle cx="296.5" cy="553.5" r="7.6"/>
<circle cx="288.4" cy="605.5" r="7.6"/>
<circle cx="295.6" cy="610.7" r="7.6"/>
<circle cx="293.7" cy="628.4" r="7.6"/>
<circle cx="294.3" cy="647.4" r="7.6"/>
<circle cx="421.7" cy="380.4" r="7.6"/>
<circle cx="451.3" cy="381.6" r="7.6"/>
<circle cx="456.2" cy="429.8" r="7.6"/>
<circle cx="426.2" cy="445.5" r="7.6"/>
<circle cx="434.6" cy="466.8" r="7.6"/>
<circle cx="418.9" cy="476.5" r="7.6"/>
<circle cx="430.3" cy="483.0" r="7.6"/>
<circle cx="446.8" cy="484.6" r="7.6"/>
<circle cx="414.1" cy="490.8" r="7.6"/>
<circle cx="419.3" cy="502.9" r="7.6"/>
<circle cx="433.5" cy="501.3" r="7.6"/>
<circle cx="435.1" cy="502.4" r="7.6"/>
<circle cx="482.5" cy="503.7" r="7.6"/>
<circle cx="473.3" cy="522.3" r="7.6"/>
<circle cx="470.7" cy="531.2" r="7.6"/>
<circle cx="476.4" cy="542.1" r="7.6"/>
<circle cx="490.8" cy="543.0" r="7.6"/>
<circle cx="483.7" cy="552.3" r="7.6"/>
<circle cx="470.4" cy="557.6" r="7.6"/>
<circle cx="574.3" cy="558.2" r="7.6"/>
<circle cx="699.6" cy="531.9" r="7.6"/>
<circle cx="414.4" cy="540.9" r="7.6"/>
<circle cx="427.4" cy="549.0" r="7.6"/>
<circle cx="433.0" cy="551.0" r="7.6"/>
<circle cx="422.2" cy="559.1" r="7.6"/>
<circle cx="415.6" cy="573.8" r="7.6"/>
<circle cx="438.4" cy="575.2" r="7.6"/>
<circle cx="421.7" cy="587.5" r="7.6"/>
<circle cx="418.5" cy="592.7" r="7.6"/>
<circle cx="468.1" cy="598.4" r="7.6"/>
<circle cx="461.3" cy="604.5" r="7.6"/>
<circle cx="426.5" cy="602.5" r="7.6"/>
<circle cx="427.4" cy="608.9" r="7.6"/>
<circle cx="426.6" cy="615.4" r="7.6"/>
<circle cx="425.8" cy="621.9" r="7.6"/>
<circle cx="425.0" cy="628.3" r="7.6"/>
<circle cx="424.1" cy="634.8" r="7.6"/>
<circle cx="425.8" cy="641.3" r="7.6"/>
<circle cx="425.0" cy="647.7" r="7.6"/>
<circle cx="423.3" cy="652.6" r="7.6"/>
<circle cx="427.4" cy="625.1" r="7.6"/>
<circle cx="421.0" cy="628.3" r="7.6"/>
<circle cx="419.3" cy="634.8" r="7.6"/>
<circle cx="428.0" cy="612.0" r="7.6"/>
<circle cx="422.5" cy="640.0" r="7.6"/>
<circle cx="427.5" cy="644.5" r="7.6"/>
<circle cx="421.7" cy="657.0" r="7.6"/>
<circle cx="420.0" cy="646.0" r="7.6"/>
<circle cx="441.4" cy="625.6" r="7.6"/>
<circle cx="444.4" cy="632.4" r="7.6"/>
<circle cx="445.2" cy="638.0" r="7.6"/>
<circle cx="443.5" cy="647.7" r="7.6"/>
<circle cx="447.6" cy="649.4" r="7.6"/>
<circle cx="450.8" cy="650.6" r="7.6"/>
<circle cx="437.1" cy="654.2" r="7.6"/>
<circle cx="441.9" cy="651.0" r="7.6"/>
<circle cx="509.6" cy="656.3" r="7.6"/>
<circle cx="437.9" cy="657.4" r="7.6"/>
<circle cx="432.0" cy="655.5" r="7.6"/>
<circle cx="428.5" cy="600.0" r="7.6"/>
<circle cx="429.5" cy="611.0" r="7.6"/>
<circle cx="428.0" cy="617.5" r="7.6"/>
<circle cx="429.5" cy="623.0" r="7.6"/>
<circle cx="427.5" cy="630.0" r="7.6"/>
<circle cx="429.0" cy="636.5" r="7.6"/>
<circle cx="427.0" cy="642.0" r="7.6"/>
<circle cx="428.5" cy="648.5" r="7.6"/>
<circle cx="426.0" cy="653.5" r="7.6"/>
<circle cx="422.5" cy="622.0" r="7.6"/>
<circle cx="423.0" cy="611.0" r="7.6"/>
<circle cx="424.5" cy="659.0" r="7.6"/>
<circle cx="446.5" cy="643.5" r="7.6"/>
<circle cx="446.0" cy="654.0" r="7.6"/>
<circle cx="441.0" cy="657.5" r="7.6"/>
</g>
<g fill="#cd0000" fill-opacity="0.7">
<circle cx="301.0" cy="89.1" r="7.6"/>
<circle cx="522.0" cy="159.3" r="7.6"/>
</g>
<g stroke="#0000b4" stroke-width="2.25" stroke-dasharray="9.7 9.14" fill="none">
<line x1="301.9" y1="53.0" x2="301.9" y2="852.0"/>
<line x1="413.1" y1="53.0" x2="413.1" y2="852.0"/>
<line x1="75.2" y1="657.0" x2="728.0" y2="657.0"/>
</g>
<g fill="#4d4d4d" font-size="30.5">
<text x="79.5" y="888.4" text-anchor="middle" textLength="53.7" lengthAdjust="spacingAndGlyphs">-5.0</text>
<text x="218.5" y="888.4" text-anchor="middle" textLength="53.7" lengthAdjust="spacingAndGlyphs">-2.5</text>
<text x="357.5" y="888.4" text-anchor="middle" textLength="43.3" lengthAdjust="spacingAndGlyphs">0.0</text>
<text x="496.5" y="888.4" text-anchor="middle" textLength="43.3" lengthAdjust="spacingAndGlyphs">2.5</text>
<text x="635.5" y="888.4" text-anchor="middle" textLength="43.3" lengthAdjust="spacingAndGlyphs">5.0</text>
<text x="63.0" y="827.9" text-anchor="end" textLength="17.3" lengthAdjust="spacingAndGlyphs">0</text>
<text x="63.0" y="582.6" text-anchor="end" textLength="17.3" lengthAdjust="spacingAndGlyphs">2</text>
<text x="63.0" y="337.3" text-anchor="end" textLength="17.3" lengthAdjust="spacingAndGlyphs">4</text>
<text x="63.0" y="91.9" text-anchor="end" textLength="17.3" lengthAdjust="spacingAndGlyphs">6</text>
</g>
<g fill="#000" font-size="30.5">
<text x="76.3" y="30.8" textLength="39.8" lengthAdjust="spacingAndGlyphs">BT</text>
<text x="403.1" y="923.6" text-anchor="middle" textLength="256.5" lengthAdjust="spacingAndGlyphs">Log2 Fold Change</text>
<text transform="translate(31.3 453.0) rotate(-90)" text-anchor="middle" textLength="213.1" lengthAdjust="spacingAndGlyphs">-log10(P-value)</text>
</g>
<text x="775.3" y="398.5" textLength="166.4" lengthAdjust="spacingAndGlyphs" font-size="30.2" fill="#000">Significance</text>
<circle cx="794.7" cy="436.2" r="10.3" fill="#cd0000" fill-opacity="0.7"/>
<text x="828.2" y="445.5" textLength="341.9" lengthAdjust="spacingAndGlyphs" font-size="26.0" fill="#000">FDR Significant (padj &lt; 0.05)</text>
<circle cx="794.7" cy="474.6" r="10.3" fill="#00cd00" fill-opacity="0.7"/>
<text x="828.2" y="483.9" textLength="405.4" lengthAdjust="spacingAndGlyphs" font-size="26.0" fill="#000">Nominal Significant (p &lt; 0.05 only)</text>
<circle cx="794.7" cy="512.6" r="10.3" fill="#b3b3b3" fill-opacity="0.7"/>
<text x="828.2" y="521.9" textLength="171.3" lengthAdjust="spacingAndGlyphs" font-size="26.0" fill="#000">Not Significant</text>
<g stroke="#ebebeb" stroke-width="1" fill="none">
<line x1="171.5" y1="1098.4" x2="171.5" y2="1898.2"/>
<line x1="316.5" y1="1098.4" x2="316.5" y2="1898.2"/>
<line x1="460.5" y1="1098.4" x2="460.5" y2="1898.2"/>
<line x1="605.5" y1="1098.4" x2="605.5" y2="1898.2"/>
<line x1="101.7" y1="1862.5" x2="729.4" y2="1862.5"/>
<line x1="101.7" y1="1662.5" x2="729.4" y2="1662.5"/>
<line x1="101.7" y1="1463.5" x2="729.4" y2="1463.5"/>
<line x1="101.7" y1="1264.5" x2="729.4" y2="1264.5"/>
</g>
<g fill="#b3b3b3" fill-opacity="0.7">
<circle cx="326.4" cy="1738.7" r="7.6"/>
<circle cx="323.2" cy="1789.6" r="7.6"/>
<circle cx="294.4" cy="1840.7" r="7.6"/>
<circle cx="330.5" cy="1752.5" r="7.6"/>
<circle cx="348.0" cy="1765.8" r="7.6"/>
<circle cx="345.8" cy="1761.4" r="7.6"/>
<circle cx="331.7" cy="1716.0" r="7.6"/>
<circle cx="285.5" cy="1758.0" r="7.6"/>
<circle cx="279.8" cy="1773.9" r="7.6"/>
<circle cx="313.7" cy="1827.9" r="7.6"/>
<circle cx="318.5" cy="1762.1" r="7.6"/>
<circle cx="312.3" cy="1835.0" r="7.6"/>
<circle cx="292.9" cy="1821.8" r="7.6"/>
<circle cx="290.1" cy="1830.8" r="7.6"/>
<circle cx="324.3" cy="1805.4" r="7.6"/>
<circle cx="301.0" cy="1830.3" r="7.6"/>
<circle cx="276.3" cy="1768.6" r="7.6"/>
<circle cx="301.4" cy="1772.8" r="7.6"/>
<circle cx="339.3" cy="1824.9" r="7.6"/>
<circle cx="308.5" cy="1762.7" r="7.6"/>
<circle cx="307.6" cy="1833.9" r="7.6"/>
<circle cx="298.5" cy="1792.1" r="7.6"/>
<circle cx="348.3" cy="1763.4" r="7.6"/>
<circle cx="327.1" cy="1787.3" r="7.6"/>
<circle cx="292.1" cy="1799.7" r="7.6"/>
<circle cx="308.7" cy="1829.9" r="7.6"/>
<circle cx="335.4" cy="1820.0" r="7.6"/>
<circle cx="328.9" cy="1779.0" r="7.6"/>
<circle cx="337.3" cy="1841.0" r="7.6"/>
<circle cx="332.5" cy="1792.7" r="7.6"/>
<circle cx="330.6" cy="1737.8" r="7.6"/>
<circle cx="301.8" cy="1778.9" r="7.6"/>
<circle cx="343.7" cy="1787.4" r="7.6"/>
<circle cx="341.3" cy="1789.4" r="7.6"/>
<circle cx="309.4" cy="1850.0" r="7.6"/>
<circle cx="324.5" cy="1769.9" r="7.6"/>
<circle cx="298.1" cy="1781.8" r="7.6"/>
<circle cx="333.1" cy="1768.3" r="7.6"/>
<circle cx="300.8" cy="1804.8" r="7.6"/>
<circle cx="330.5" cy="1742.5" r="7.6"/>
<circle cx="347.0" cy="1775.0" r="7.6"/>
<circle cx="297.6" cy="1825.3" r="7.6"/>
<circle cx="291.7" cy="1786.8" r="7.6"/>
<circle cx="285.5" cy="1809.7" r="7.6"/>
<circle cx="295.4" cy="1758.5" r="7.6"/>
<circle cx="299.9" cy="1824.7" r="7.6"/>
<circle cx="288.9" cy="1792.3" r="7.6"/>
<circle cx="316.2" cy="1772.6" r="7.6"/>
<circle cx="330.1" cy="1813.0" r="7.6"/>
<circle cx="311.4" cy="1797.1" r="7.6"/>
<circle cx="338.3" cy="1793.1" r="7.6"/>
<circle cx="332.5" cy="1821.6" r="7.6"/>
<circle cx="295.2" cy="1806.2" r="7.6"/>
<circle cx="326.8" cy="1854.8" r="7.6"/>
<circle cx="282.9" cy="1803.5" r="7.6"/>
<circle cx="284.9" cy="1808.3" r="7.6"/>
<circle cx="295.2" cy="1761.8" r="7.6"/>
<circle cx="303.3" cy="1837.2" r="7.6"/>
<circle cx="340.7" cy="1833.3" r="7.6"/>
<circle cx="316.7" cy="1759.1" r="7.6"/>
<circle cx="308.6" cy="1770.6" r="7.6"/>
<circle cx="309.8" cy="1784.8" r="7.6"/>
<circle cx="342.7" cy="1784.3" r="7.6"/>
<circle cx="309.3" cy="1758.8" r="7.6"/>
<circle cx="329.6" cy="1798.7" r="7.6"/>
<circle cx="336.4" cy="1838.4" r="7.6"/>
<circle cx="292.1" cy="1832.4" r="7.6"/>
<circle cx="295.9" cy="1838.3" r="7.6"/>
<circle cx="342.0" cy="1821.5" r="7.6"/>
<circle cx="307.5" cy="1844.0" r="7.6"/>
<circle cx="283.1" cy="1778.9" r="7.6"/>
<circle cx="286.7" cy="1798.9" r="7.6"/>
<circle cx="304.4" cy="1796.8" r="7.6"/>
<circle cx="329.1" cy="1732.4" r="7.6"/>
<circle cx="286.3" cy="1800.4" r="7.6"/>
<circle cx="288.0" cy="1773.1" r="7.6"/>
<circle cx="272.0" cy="1763.1" r="7.6"/>
<circle cx="317.8" cy="1767.3" r="7.6"/>
<circle cx="289.2" cy="1823.0" r="7.6"/>
<circle cx="333.1" cy="1841.9" r="7.6"/>
<circle cx="330.9" cy="1745.9" r="7.6"/>
<circle cx="295.3" cy="1775.6" r="7.6"/>
<circle cx="323.6" cy="1854.4" r="7.6"/>
<circle cx="343.1" cy="1812.1" r="7.6"/>
<circle cx="286.4" cy="1815.8" r="7.6"/>
<circle cx="343.2" cy="1801.4" r="7.6"/>
<circle cx="315.3" cy="1765.2" r="7.6"/>
<circle cx="309.6" cy="1778.3" r="7.6"/>
<circle cx="320.3" cy="1858.6" r="7.6"/>
<circle cx="293.8" cy="1803.5" r="7.6"/>
<circle cx="286.4" cy="1819.2" r="7.6"/>
<circle cx="289.0" cy="1806.2" r="7.6"/>
<circle cx="345.1" cy="1777.6" r="7.6"/>
<circle cx="309.9" cy="1791.6" r="7.6"/>
<circle cx="346.5" cy="1798.3" r="7.6"/>
<circle cx="325.1" cy="1857.0" r="7.6"/>
<circle cx="287.7" cy="1789.5" r="7.6"/>
<circle cx="310.8" cy="1759.6" r="7.6"/>
<circle cx="345.7" cy="1782.7" r="7.6"/>
<circle cx="329.4" cy="1853.6" r="7.6"/>
<circle cx="279.5" cy="1758.1" r="7.6"/>
<circle cx="317.0" cy="1852.1" r="7.6"/>
<circle cx="327.2" cy="1756.2" r="7.6"/>
<circle cx="321.8" cy="1841.6" r="7.6"/>
<circle cx="325.4" cy="1825.6" r="7.6"/>
<circle cx="308.3" cy="1773.3" r="7.6"/>
<circle cx="327.1" cy="1717.6" r="7.6"/>
<circle cx="330.2" cy="1753.7" r="7.6"/>
<circle cx="287.2" cy="1782.0" r="7.6"/>
<circle cx="341.9" cy="1759.4" r="7.6"/>
<circle cx="308.1" cy="1855.3" r="7.6"/>
<circle cx="348.1" cy="1760.4" r="7.6"/>
<circle cx="273.0" cy="1760.4" r="7.6"/>
<circle cx="309.3" cy="1802.0" r="7.6"/>
<circle cx="316.6" cy="1801.9" r="7.6"/>
<circle cx="320.9" cy="1813.5" r="7.6"/>
<circle cx="316.6" cy="1850.9" r="7.6"/>
<circle cx="319.1" cy="1789.0" r="7.6"/>
<circle cx="280.2" cy="1769.0" r="7.6"/>
<circle cx="307.6" cy="1856.5" r="7.6"/>
<circle cx="339.0" cy="1764.9" r="7.6"/>
<circle cx="293.8" cy="1812.5" r="7.6"/>
<circle cx="331.7" cy="1722.8" r="7.6"/>
<circle cx="317.1" cy="1830.2" r="7.6"/>
<circle cx="306.9" cy="1824.3" r="7.6"/>
<circle cx="327.4" cy="1716.4" r="7.6"/>
<circle cx="292.1" cy="1764.4" r="7.6"/>
<circle cx="330.5" cy="1752.4" r="7.6"/>
<circle cx="308.3" cy="1758.9" r="7.6"/>
<circle cx="311.3" cy="1815.9" r="7.6"/>
<circle cx="341.4" cy="1824.3" r="7.6"/>
<circle cx="317.0" cy="1842.8" r="7.6"/>
<circle cx="347.8" cy="1779.9" r="7.6"/>
<circle cx="325.0" cy="1830.7" r="7.6"/>
<circle cx="304.3" cy="1846.5" r="7.6"/>
<circle cx="301.3" cy="1850.2" r="7.6"/>
<circle cx="313.5" cy="1791.6" r="7.6"/>
<circle cx="345.3" cy="1803.1" r="7.6"/>
<circle cx="293.7" cy="1759.1" r="7.6"/>
<circle cx="319.9" cy="1808.6" r="7.6"/>
<circle cx="317.7" cy="1778.2" r="7.6"/>
<circle cx="333.8" cy="1765.0" r="7.6"/>
<circle cx="283.5" cy="1790.2" r="7.6"/>
<circle cx="297.4" cy="1845.0" r="7.6"/>
<circle cx="341.0" cy="1771.0" r="7.6"/>
<circle cx="342.0" cy="1791.9" r="7.6"/>
<circle cx="323.2" cy="1835.7" r="7.6"/>
<circle cx="298.5" cy="1796.4" r="7.6"/>
<circle cx="311.4" cy="1787.5" r="7.6"/>
<circle cx="331.1" cy="1738.4" r="7.6"/>
<circle cx="320.3" cy="1826.3" r="7.6"/>
<circle cx="330.6" cy="1836.2" r="7.6"/>
<circle cx="311.2" cy="1819.9" r="7.6"/>
<circle cx="327.3" cy="1816.5" r="7.6"/>
<circle cx="292.6" cy="1792.9" r="7.6"/>
<circle cx="284.9" cy="1775.4" r="7.6"/>
<circle cx="321.2" cy="1819.8" r="7.6"/>
<circle cx="323.1" cy="1756.9" r="7.6"/>
<circle cx="285.1" cy="1786.9" r="7.6"/>
<circle cx="317.5" cy="1833.2" r="7.6"/>
<circle cx="317.5" cy="1815.2" r="7.6"/>
<circle cx="283.8" cy="1792.8" r="7.6"/>
<circle cx="306.0" cy="1838.7" r="7.6"/>
<circle cx="306.5" cy="1830.8" r="7.6"/>
<circle cx="305.0" cy="1781.8" r="7.6"/>
<circle cx="338.5" cy="1815.1" r="7.6"/>
<circle cx="292.0" cy="1776.7" r="7.6"/>
<circle cx="303.4" cy="1794.8" r="7.6"/>
<circle cx="298.8" cy="1841.0" r="7.6"/>
<circle cx="284.5" cy="1766.0" r="7.6"/>
<circle cx="325.1" cy="1763.1" r="7.6"/>
<circle cx="338.8" cy="1805.7" r="7.6"/>
<circle cx="311.7" cy="1854.5" r="7.6"/>
<circle cx="327.0" cy="1847.0" r="7.6"/>
<circle cx="327.2" cy="1791.7" r="7.6"/>
<circle cx="283.8" cy="1806.1" r="7.6"/>
<circle cx="325.2" cy="1784.0" r="7.6"/>
<circle cx="329.5" cy="1827.5" r="7.6"/>
<circle cx="280.1" cy="1765.1" r="7.6"/>
<circle cx="330.3" cy="1805.1" r="7.6"/>
<circle cx="298.7" cy="1786.3" r="7.6"/>
<circle cx="306.0" cy="1853.9" r="7.6"/>
<circle cx="316.3" cy="1861.7" r="7.6"/>
<circle cx="314.2" cy="1860.0" r="7.6"/>
<circle cx="292.3" cy="1760.2" r="7.6"/>
<circle cx="332.7" cy="1803.8" r="7.6"/>
<circle cx="290.7" cy="1813.6" r="7.6"/>
<circle cx="305.3" cy="1813.9" r="7.6"/>
<circle cx="332.4" cy="1814.4" r="7.6"/>
<circle cx="308.5" cy="1788.4" r="7.6"/>
<circle cx="276.7" cy="1759.3" r="7.6"/>
<circle cx="318.9" cy="1860.8" r="7.6"/>
<circle cx="333.2" cy="1780.2" r="7.6"/>
<circle cx="304.2" cy="1789.5" r="7.6"/>
<circle cx="325.3" cy="1822.7" r="7.6"/>
<circle cx="332.6" cy="1787.4" r="7.6"/>
<circle cx="338.2" cy="1809.5" r="7.6"/>
<circle cx="313.7" cy="1812.6" r="7.6"/>
<circle cx="298.1" cy="1843.9" r="7.6"/>
<circle cx="331.7" cy="1730.0" r="7.6"/>
<circle cx="292.1" cy="1824.6" r="7.6"/>
<circle cx="327.2" cy="1773.3" r="7.6"/>
<circle cx="300.7" cy="1810.2" r="7.6"/>
<circle cx="341.7" cy="1799.1" r="7.6"/>
<circle cx="283.3" cy="1797.2" r="7.6"/>
<circle cx="303.3" cy="1815.0" r="7.6"/>
<circle cx="326.0" cy="1742.8" r="7.6"/>
<circle cx="346.7" cy="1789.8" r="7.6"/>
<circle cx="294.6" cy="1785.2" r="7.6"/>
<circle cx="336.6" cy="1759.5" r="7.6"/>
<circle cx="285.8" cy="1815.0" r="7.6"/>
<circle cx="324.9" cy="1811.9" r="7.6"/>
<circle cx="327.3" cy="1718.9" r="7.6"/>
<circle cx="327.8" cy="1722.4" r="7.6"/>
<circle cx="297.7" cy="1779.3" r="7.6"/>
<circle cx="341.3" cy="1775.1" r="7.6"/>
<circle cx="297.3" cy="1802.9" r="7.6"/>
<circle cx="313.2" cy="1807.2" r="7.6"/>
<circle cx="332.5" cy="1830.1" r="7.6"/>
<circle cx="316.8" cy="1820.6" r="7.6"/>
<circle cx="321.2" cy="1781.7" r="7.6"/>
<circle cx="302.8" cy="1759.5" r="7.6"/>
<circle cx="305.0" cy="1849.5" r="7.6"/>
<circle cx="308.9" cy="1805.5" r="7.6"/>
<circle cx="318.9" cy="1828.8" r="7.6"/>
<circle cx="297.9" cy="1765.1" r="7.6"/>
<circle cx="283.1" cy="1778.2" r="7.6"/>
<circle cx="336.8" cy="1832.5" r="7.6"/>
<circle cx="295.3" cy="1815.4" r="7.6"/>
<circle cx="337.2" cy="1775.2" r="7.6"/>
<circle cx="346.6" cy="1784.0" r="7.6"/>
<circle cx="336.3" cy="1836.4" r="7.6"/>
<circle cx="326.4" cy="1728.8" r="7.6"/>
<circle cx="291.8" cy="1834.0" r="7.6"/>
<circle cx="337.7" cy="1779.6" r="7.6"/>
<circle cx="331.1" cy="1715.2" r="7.6"/>
<circle cx="347.2" cy="1800.1" r="7.6"/>
<circle cx="303.5" cy="1762.1" r="7.6"/>
<circle cx="325.3" cy="1754.2" r="7.6"/>
<circle cx="291.0" cy="1817.5" r="7.6"/>
<circle cx="274.2" cy="1763.5" r="7.6"/>
<circle cx="290.4" cy="1764.2" r="7.6"/>
<circle cx="329.1" cy="1708.8" r="7.6"/>
<circle cx="289.2" cy="1825.2" r="7.6"/>
<circle cx="330.6" cy="1725.4" r="7.6"/>
<circle cx="318.8" cy="1765.6" r="7.6"/>
<circle cx="306.3" cy="1764.2" r="7.6"/>
<circle cx="341.9" cy="1830.7" r="7.6"/>
<circle cx="302.5" cy="1770.9" r="7.6"/>
<circle cx="336.5" cy="1806.1" r="7.6"/>
<circle cx="329.2" cy="1723.8" r="7.6"/>
<circle cx="284.2" cy="1780.7" r="7.6"/>
<circle cx="323.0" cy="1816.5" r="7.6"/>
<circle cx="307.0" cy="1799.8" r="7.6"/>
<circle cx="335.8" cy="1799.3" r="7.6"/>
<circle cx="285.9" cy="1768.5" r="7.6"/>
<circle cx="330.0" cy="1782.2" r="7.6"/>
<circle cx="324.9" cy="1779.5" r="7.6"/>
<circle cx="329.6" cy="1844.8" r="7.6"/>
<circle cx="298.9" cy="1847.5" r="7.6"/>
<circle cx="324.6" cy="1801.6" r="7.6"/>
<circle cx="279.8" cy="1760.3" r="7.6"/>
<circle cx="339.5" cy="1835.7" r="7.6"/>
<circle cx="297.8" cy="1834.6" r="7.6"/>
<circle cx="322.6" cy="1799.0" r="7.6"/>
<circle cx="324.8" cy="1842.3" r="7.6"/>
<circle cx="291.5" cy="1769.4" r="7.6"/>
<circle cx="331.1" cy="1762.2" r="7.6"/>
<circle cx="329.5" cy="1771.8" r="7.6"/>
<circle cx="283.5" cy="1809.0" r="7.6"/>
<circle cx="320.5" cy="1803.3" r="7.6"/>
<circle cx="332.5" cy="1825.0" r="7.6"/>
<circle cx="335.1" cy="1758.0" r="7.6"/>
<circle cx="339.4" cy="1801.2" r="7.6"/>
<circle cx="345.2" cy="1767.5" r="7.6"/>
<circle cx="325.8" cy="1748.8" r="7.6"/>
<circle cx="322.7" cy="1792.2" r="7.6"/>
<circle cx="322.5" cy="1773.1" r="7.6"/>
<circle cx="314.2" cy="1784.5" r="7.6"/>
<circle cx="337.6" cy="1785.0" r="7.6"/>
<circle cx="321.4" cy="1848.0" r="7.6"/>
<circle cx="328.5" cy="1839.6" r="7.6"/>
<circle cx="311.7" cy="1843.3" r="7.6"/>
<circle cx="310.0" cy="1841.8" r="7.6"/>
<circle cx="305.5" cy="1818.2" r="7.6"/>
<circle cx="337.2" cy="1842.0" r="7.6"/>
<circle cx="345.6" cy="1769.4" r="7.6"/>
<circle cx="325.9" cy="1759.7" r="7.6"/>
<circle cx="294.6" cy="1771.0" r="7.6"/>
<circle cx="313.5" cy="1779.5" r="7.6"/>
<circle cx="328.2" cy="1740.6" r="7.6"/>
<circle cx="314.2" cy="1762.0" r="7.6"/>
<circle cx="303.0" cy="1802.3" r="7.6"/>
<circle cx="340.9" cy="1763.7" r="7.6"/>
<circle cx="315.2" cy="1769.0" r="7.6"/>
<circle cx="318.9" cy="1796.6" r="7.6"/>
<circle cx="313.7" cy="1838.7" r="7.6"/>
<circle cx="312.0" cy="1813.5" r="7.6"/>
<circle cx="342.7" cy="1813.7" r="7.6"/>
<circle cx="334.6" cy="1846.6" r="7.6"/>
<circle cx="330.5" cy="1712.1" r="7.6"/>
<circle cx="339.2" cy="1760.7" r="7.6"/>
<circle cx="301.6" cy="1821.1" r="7.6"/>
<circle cx="306.7" cy="1819.1" r="7.6"/>
<circle cx="330.5" cy="1772.9" r="7.6"/>
<circle cx="341.7" cy="1810.0" r="7.6"/>
<circle cx="327.1" cy="1732.6" r="7.6"/>
<circle cx="306.4" cy="1776.0" r="7.6"/>
<circle cx="307.4" cy="1599.7" r="7.6"/>
<circle cx="303.3" cy="1623.2" r="7.6"/>
<circle cx="327.6" cy="1624.8" r="7.6"/>
<circle cx="308.2" cy="1659.6" r="7.6"/>
<circle cx="364.0" cy="1768.0" r="7.6"/>
<circle cx="372.1" cy="1771.3" r="7.6"/>
<circle cx="359.5" cy="1800.5" r="7.6"/>
<circle cx="355.5" cy="1794.0" r="7.6"/>
</g>
<g fill="#00cd00" fill-opacity="0.7">
<circle cx="352.5" cy="1558.4" r="7.6"/>
<circle cx="347.6" cy="1589.6" r="7.6"/>
<circle cx="351.1" cy="1754.6" r="7.6"/>
<circle cx="358.3" cy="1704.5" r="7.6"/>
<circle cx="358.4" cy="1723.6" r="7.6"/>
<circle cx="344.4" cy="1721.4" r="7.6"/>
<circle cx="333.6" cy="1745.9" r="7.6"/>
<circle cx="334.6" cy="1713.3" r="7.6"/>
<circle cx="363.7" cy="1562.7" r="7.6"/>
<circle cx="344.5" cy="1698.8" r="7.6"/>
<circle cx="359.5" cy="1608.1" r="7.6"/>
<circle cx="346.5" cy="1565.7" r="7.6"/>
<circle cx="348.8" cy="1600.0" r="7.6"/>
<circle cx="366.6" cy="1661.4" r="7.6"/>
<circle cx="342.7" cy="1604.8" r="7.6"/>
<circle cx="354.2" cy="1621.7" r="7.6"/>
<circle cx="374.1" cy="1660.6" r="7.6"/>
<circle cx="333.4" cy="1682.9" r="7.6"/>
<circle cx="339.1" cy="1701.4" r="7.6"/>
<circle cx="349.0" cy="1703.0" r="7.6"/>
<circle cx="332.7" cy="1732.8" r="7.6"/>
<circle cx="342.7" cy="1693.5" r="7.6"/>
<circle cx="358.8" cy="1748.3" r="7.6"/>
<circle cx="359.0" cy="1559.8" r="7.6"/>
<circle cx="362.6" cy="1586.0" r="7.6"/>
<circle cx="357.6" cy="1687.0" r="7.6"/>
<circle cx="339.5" cy="1725.8" r="7.6"/>
<circle cx="336.5" cy="1704.4" r="7.6"/>
<circle cx="332.8" cy="1697.5" r="7.6"/>
<circle cx="341.3" cy="1736.9" r="7.6"/>
<circle cx="332.5" cy="1706.1" r="7.6"/>
<circle cx="344.7" cy="1619.5" r="7.6"/>
<circle cx="352.4" cy="1689.5" r="7.6"/>
<circle cx="359.5" cy="1705.1" r="7.6"/>
<circle cx="345.6" cy="1753.3" r="7.6"/>
<circle cx="351.3" cy="1755.1" r="7.6"/>
<circle cx="348.8" cy="1569.8" r="7.6"/>
<circle cx="356.2" cy="1578.3" r="7.6"/>
<circle cx="356.5" cy="1638.7" r="7.6"/>
<circle cx="338.2" cy="1744.3" r="7.6"/>
<circle cx="352.4" cy="1603.4" r="7.6"/>
<circle cx="347.6" cy="1566.4" r="7.6"/>
<circle cx="334.7" cy="1753.1" r="7.6"/>
<circle cx="337.0" cy="1734.5" r="7.6"/>
<circle cx="352.5" cy="1736.5" r="7.6"/>
<circle cx="348.5" cy="1582.6" r="7.6"/>
<circle cx="362.1" cy="1566.4" r="7.6"/>
<circle cx="344.9" cy="1653.9" r="7.6"/>
<circle cx="355.2" cy="1585.0" r="7.6"/>
<circle cx="355.5" cy="1556.1" r="7.6"/>
<circle cx="367.2" cy="1674.2" r="7.6"/>
<circle cx="336.5" cy="1689.1" r="7.6"/>
<circle cx="361.2" cy="1678.5" r="7.6"/>
<circle cx="351.3" cy="1734.5" r="7.6"/>
<circle cx="365.4" cy="1668.1" r="7.6"/>
<circle cx="332.1" cy="1734.5" r="7.6"/>
<circle cx="361.9" cy="1595.1" r="7.6"/>
<circle cx="363.1" cy="1592.6" r="7.6"/>
<circle cx="341.1" cy="1694.2" r="7.6"/>
<circle cx="347.6" cy="1671.9" r="7.6"/>
<circle cx="347.1" cy="1694.8" r="7.6"/>
<circle cx="358.0" cy="1736.3" r="7.6"/>
<circle cx="359.8" cy="1581.1" r="7.6"/>
<circle cx="357.4" cy="1723.4" r="7.6"/>
<circle cx="344.6" cy="1634.8" r="7.6"/>
<circle cx="349.2" cy="1666.0" r="7.6"/>
<circle cx="349.0" cy="1637.6" r="7.6"/>
<circle cx="334.0" cy="1676.3" r="7.6"/>
<circle cx="353.6" cy="1631.3" r="7.6"/>
<circle cx="361.5" cy="1581.6" r="7.6"/>
<circle cx="331.2" cy="1712.2" r="7.6"/>
<circle cx="360.5" cy="1585.7" r="7.6"/>
<circle cx="342.6" cy="1642.7" r="7.6"/>
<circle cx="350.3" cy="1662.1" r="7.6"/>
<circle cx="342.7" cy="1600.6" r="7.6"/>
<circle cx="355.4" cy="1699.2" r="7.6"/>
<circle cx="350.8" cy="1574.1" r="7.6"/>
<circle cx="349.9" cy="1579.1" r="7.6"/>
<circle cx="374.8" cy="1657.8" r="7.6"/>
<circle cx="368.7" cy="1665.6" r="7.6"/>
<circle cx="350.8" cy="1725.1" r="7.6"/>
<circle cx="337.1" cy="1685.7" r="7.6"/>
<circle cx="352.6" cy="1606.2" r="7.6"/>
<circle cx="334.8" cy="1739.4" r="7.6"/>
<circle cx="332.6" cy="1730.2" r="7.6"/>
<circle cx="355.0" cy="1672.0" r="7.6"/>
<circle cx="340.4" cy="1617.0" r="7.6"/>
<circle cx="340.5" cy="1723.3" r="7.6"/>
<circle cx="357.3" cy="1604.3" r="7.6"/>
<circle cx="363.9" cy="1567.3" r="7.6"/>
<circle cx="358.7" cy="1734.2" r="7.6"/>
<circle cx="352.7" cy="1754.3" r="7.6"/>
<circle cx="353.4" cy="1644.8" r="7.6"/>
<circle cx="334.3" cy="1689.3" r="7.6"/>
<circle cx="352.1" cy="1693.7" r="7.6"/>
<circle cx="332.6" cy="1725.6" r="7.6"/>
<circle cx="332.1" cy="1693.3" r="7.6"/>
<circle cx="361.7" cy="1661.0" r="7.6"/>
<circle cx="348.9" cy="1708.5" r="7.6"/>
<circle cx="349.0" cy="1682.5" r="7.6"/>
<circle cx="340.5" cy="1627.7" r="7.6"/>
<circle cx="340.1" cy="1680.5" r="7.6"/>
<circle cx="355.1" cy="1754.1" r="7.6"/>
<circle cx="341.8" cy="1609.4" r="7.6"/>
<circle cx="341.7" cy="1661.6" r="7.6"/>
<circle cx="361.4" cy="1739.4" r="7.6"/>
<circle cx="342.0" cy="1754.0" r="7.6"/>
<circle cx="360.9" cy="1735.4" r="7.6"/>
<circle cx="362.1" cy="1656.1" r="7.6"/>
<circle cx="358.9" cy="1718.8" r="7.6"/>
<circle cx="347.6" cy="1597.4" r="7.6"/>
<circle cx="354.9" cy="1589.7" r="7.6"/>
<circle cx="369.1" cy="1670.9" r="7.6"/>
<circle cx="339.5" cy="1633.6" r="7.6"/>
<circle cx="357.0" cy="1650.6" r="7.6"/>
<circle cx="343.3" cy="1665.1" r="7.6"/>
<circle cx="357.4" cy="1592.2" r="7.6"/>
<circle cx="342.4" cy="1754.4" r="7.6"/>
<circle cx="341.5" cy="1678.7" r="7.6"/>
<circle cx="349.9" cy="1743.8" r="7.6"/>
<circle cx="358.5" cy="1607.4" r="7.6"/>
<circle cx="340.8" cy="1634.5" r="7.6"/>
<circle cx="360.0" cy="1614.2" r="7.6"/>
<circle cx="356.6" cy="1595.0" r="7.6"/>
<circle cx="361.8" cy="1697.2" r="7.6"/>
<circle cx="344.2" cy="1740.7" r="7.6"/>
<circle cx="346.2" cy="1684.5" r="7.6"/>
<circle cx="344.5" cy="1595.4" r="7.6"/>
<circle cx="345.4" cy="1713.1" r="7.6"/>
<circle cx="359.0" cy="1602.3" r="7.6"/>
<circle cx="358.2" cy="1752.7" r="7.6"/>
<circle cx="353.6" cy="1690.9" r="7.6"/>
<circle cx="349.2" cy="1747.7" r="7.6"/>
<circle cx="334.2" cy="1716.9" r="7.6"/>
<circle cx="347.2" cy="1645.2" r="7.6"/>
<circle cx="339.3" cy="1646.9" r="7.6"/>
<circle cx="358.3" cy="1571.1" r="7.6"/>
<circle cx="339.6" cy="1668.4" r="7.6"/>
<circle cx="333.4" cy="1749.2" r="7.6"/>
<circle cx="331.9" cy="1721.9" r="7.6"/>
<circle cx="368.1" cy="1676.6" r="7.6"/>
<circle cx="355.4" cy="1562.5" r="7.6"/>
<circle cx="357.8" cy="1678.5" r="7.6"/>
<circle cx="332.8" cy="1719.5" r="7.6"/>
<circle cx="356.5" cy="1615.5" r="7.6"/>
<circle cx="357.7" cy="1647.8" r="7.6"/>
<circle cx="349.1" cy="1620.8" r="7.6"/>
<circle cx="356.7" cy="1618.7" r="7.6"/>
<circle cx="333.7" cy="1680.7" r="7.6"/>
<circle cx="345.8" cy="1590.0" r="7.6"/>
<circle cx="351.5" cy="1673.7" r="7.6"/>
<circle cx="351.0" cy="1684.7" r="7.6"/>
<circle cx="344.6" cy="1648.4" r="7.6"/>
<circle cx="332.5" cy="1707.5" r="7.6"/>
<circle cx="351.5" cy="1647.4" r="7.6"/>
<circle cx="343.1" cy="1735.1" r="7.6"/>
<circle cx="362.5" cy="1688.9" r="7.6"/>
<circle cx="346.7" cy="1622.5" r="7.6"/>
<circle cx="342.9" cy="1671.0" r="7.6"/>
<circle cx="354.7" cy="1634.7" r="7.6"/>
<circle cx="341.1" cy="1652.8" r="7.6"/>
<circle cx="358.7" cy="1728.7" r="7.6"/>
<circle cx="359.4" cy="1651.2" r="7.6"/>
<circle cx="347.2" cy="1724.9" r="7.6"/>
<circle cx="361.8" cy="1668.4" r="7.6"/>
<circle cx="352.9" cy="1652.8" r="7.6"/>
<circle cx="342.0" cy="1627.2" r="7.6"/>
<circle cx="332.6" cy="1702.3" r="7.6"/>
<circle cx="363.8" cy="1688.1" r="7.6"/>
<circle cx="342.3" cy="1674.7" r="7.6"/>
<circle cx="349.0" cy="1613.6" r="7.6"/>
<circle cx="340.3" cy="1623.5" r="7.6"/>
<circle cx="335.6" cy="1657.8" r="7.6"/>
<circle cx="338.5" cy="1747.1" r="7.6"/>
<circle cx="346.3" cy="1639.5" r="7.6"/>
<circle cx="363.3" cy="1691.9" r="7.6"/>
<circle cx="360.1" cy="1713.4" r="7.6"/>
<circle cx="357.6" cy="1710.3" r="7.6"/>
<circle cx="344.8" cy="1675.2" r="7.6"/>
<circle cx="355.7" cy="1749.9" r="7.6"/>
<circle cx="360.3" cy="1572.2" r="7.6"/>
<circle cx="353.9" cy="1626.2" r="7.6"/>
<circle cx="353.2" cy="1663.1" r="7.6"/>
<circle cx="358.9" cy="1745.0" r="7.6"/>
<circle cx="341.0" cy="1717.9" r="7.6"/>
<circle cx="355.8" cy="1634.1" r="7.6"/>
<circle cx="349.3" cy="1562.3" r="7.6"/>
<circle cx="352.1" cy="1705.3" r="7.6"/>
<circle cx="346.1" cy="1598.2" r="7.6"/>
<circle cx="366.6" cy="1656.2" r="7.6"/>
<circle cx="353.3" cy="1717.9" r="7.6"/>
<circle cx="333.3" cy="1668.2" r="7.6"/>
<circle cx="339.9" cy="1707.1" r="7.6"/>
<circle cx="347.4" cy="1723.0" r="7.6"/>
<circle cx="345.6" cy="1737.0" r="7.6"/>
<circle cx="353.5" cy="1568.6" r="7.6"/>
<circle cx="332.8" cy="1687.4" r="7.6"/>
<circle cx="332.6" cy="1737.9" r="7.6"/>
<circle cx="358.4" cy="1673.1" r="7.6"/>
<circle cx="340.7" cy="1687.2" r="7.6"/>
<circle cx="338.9" cy="1639.3" r="7.6"/>
<circle cx="333.6" cy="1675.7" r="7.6"/>
<circle cx="358.4" cy="1579.0" r="7.6"/>
<circle cx="334.6" cy="1661.6" r="7.6"/>
<circle cx="337.6" cy="1713.1" r="7.6"/>
<circle cx="335.0" cy="1696.0" r="7.6"/>
<circle cx="366.1" cy="1684.7" r="7.6"/>
<circle cx="364.8" cy="1664.4" r="7.6"/>
<circle cx="366.6" cy="1679.8" r="7.6"/>
<circle cx="359.7" cy="1709.4" r="7.6"/>
<circle cx="355.5" cy="1609.9" r="7.6"/>
<circle cx="357.6" cy="1742.6" r="7.6"/>
<circle cx="334.2" cy="1677.7" r="7.6"/>
<circle cx="368.7" cy="1674.2" r="7.6"/>
<circle cx="357.3" cy="1643.5" r="7.6"/>
<circle cx="361.5" cy="1667.3" r="7.6"/>
<circle cx="335.1" cy="1661.4" r="7.6"/>
<circle cx="337.2" cy="1645.7" r="7.6"/>
<circle cx="345.1" cy="1609.5" r="7.6"/>
<circle cx="356.8" cy="1654.6" r="7.6"/>
<circle cx="350.0" cy="1714.4" r="7.6"/>
<circle cx="333.9" cy="1746.3" r="7.6"/>
<circle cx="370.6" cy="1666.8" r="7.6"/>
<circle cx="349.1" cy="1576.8" r="7.6"/>
<circle cx="341.0" cy="1612.2" r="7.6"/>
<circle cx="349.0" cy="1626.7" r="7.6"/>
<circle cx="352.9" cy="1583.1" r="7.6"/>
<circle cx="337.3" cy="1650.2" r="7.6"/>
<circle cx="351.3" cy="1623.3" r="7.6"/>
<circle cx="353.2" cy="1614.5" r="7.6"/>
<circle cx="357.2" cy="1693.8" r="7.6"/>
<circle cx="335.9" cy="1753.7" r="7.6"/>
<circle cx="349.7" cy="1583.2" r="7.6"/>
<circle cx="335.8" cy="1654.7" r="7.6"/>
<circle cx="334.2" cy="1723.4" r="7.6"/>
<circle cx="356.7" cy="1658.9" r="7.6"/>
<circle cx="349.4" cy="1718.6" r="7.6"/>
<circle cx="302.0" cy="1674.4" r="7.6"/>
<circle cx="292.2" cy="1672.4" r="7.6"/>
<circle cx="292.4" cy="1689.4" r="7.6"/>
<circle cx="286.0" cy="1711.7" r="7.6"/>
<circle cx="283.6" cy="1719.8" r="7.6"/>
<circle cx="284.3" cy="1701.5" r="7.6"/>
<circle cx="302.1" cy="1700.6" r="7.6"/>
<circle cx="284.2" cy="1717.7" r="7.6"/>
<circle cx="302.5" cy="1717.1" r="7.6"/>
<circle cx="283.2" cy="1734.0" r="7.6"/>
<circle cx="301.9" cy="1693.3" r="7.6"/>
<circle cx="283.4" cy="1725.1" r="7.6"/>
<circle cx="299.6" cy="1719.3" r="7.6"/>
<circle cx="293.7" cy="1716.0" r="7.6"/>
<circle cx="283.8" cy="1697.8" r="7.6"/>
<circle cx="301.1" cy="1671.7" r="7.6"/>
<circle cx="302.0" cy="1727.4" r="7.6"/>
<circle cx="300.3" cy="1704.1" r="7.6"/>
<circle cx="302.8" cy="1656.0" r="7.6"/>
<circle cx="299.1" cy="1648.5" r="7.6"/>
<circle cx="295.0" cy="1726.9" r="7.6"/>
<circle cx="301.9" cy="1686.0" r="7.6"/>
<circle cx="296.6" cy="1690.3" r="7.6"/>
<circle cx="282.5" cy="1702.1" r="7.6"/>
<circle cx="288.4" cy="1682.1" r="7.6"/>
<circle cx="284.2" cy="1745.0" r="7.6"/>
<circle cx="297.8" cy="1646.4" r="7.6"/>
<circle cx="287.3" cy="1685.2" r="7.6"/>
<circle cx="289.2" cy="1715.7" r="7.6"/>
<circle cx="300.7" cy="1645.3" r="7.6"/>
<circle cx="302.6" cy="1673.0" r="7.6"/>
<circle cx="302.8" cy="1739.7" r="7.6"/>
<circle cx="302.1" cy="1753.3" r="7.6"/>
<circle cx="302.4" cy="1744.3" r="7.6"/>
<circle cx="285.8" cy="1754.5" r="7.6"/>
<circle cx="299.3" cy="1638.9" r="7.6"/>
<circle cx="296.3" cy="1754.5" r="7.6"/>
<circle cx="290.4" cy="1720.8" r="7.6"/>
<circle cx="282.3" cy="1733.1" r="7.6"/>
<circle cx="295.8" cy="1734.2" r="7.6"/>
<circle cx="281.8" cy="1734.6" r="7.6"/>
<circle cx="298.4" cy="1640.8" r="7.6"/>
<circle cx="288.5" cy="1725.1" r="7.6"/>
<circle cx="298.1" cy="1744.2" r="7.6"/>
<circle cx="293.8" cy="1696.3" r="7.6"/>
<circle cx="292.0" cy="1668.9" r="7.6"/>
<circle cx="302.3" cy="1687.6" r="7.6"/>
<circle cx="283.9" cy="1714.0" r="7.6"/>
<circle cx="293.9" cy="1657.1" r="7.6"/>
<circle cx="302.7" cy="1649.5" r="7.6"/>
<circle cx="301.5" cy="1708.7" r="7.6"/>
<circle cx="296.4" cy="1651.6" r="7.6"/>
<circle cx="290.6" cy="1713.7" r="7.6"/>
<circle cx="287.1" cy="1707.4" r="7.6"/>
<circle cx="301.5" cy="1733.7" r="7.6"/>
<circle cx="287.6" cy="1735.3" r="7.6"/>
<circle cx="284.9" cy="1754.0" r="7.6"/>
<circle cx="302.2" cy="1703.3" r="7.6"/>
<circle cx="286.7" cy="1745.8" r="7.6"/>
<circle cx="281.3" cy="1729.3" r="7.6"/>
<circle cx="291.0" cy="1676.8" r="7.6"/>
<circle cx="296.1" cy="1678.3" r="7.6"/>
<circle cx="283.0" cy="1695.1" r="7.6"/>
<circle cx="285.1" cy="1742.7" r="7.6"/>
<circle cx="287.7" cy="1685.1" r="7.6"/>
<circle cx="298.1" cy="1661.4" r="7.6"/>
<circle cx="283.3" cy="1711.1" r="7.6"/>
<circle cx="292.9" cy="1706.1" r="7.6"/>
<circle cx="301.5" cy="1652.7" r="7.6"/>
<circle cx="284.6" cy="1753.7" r="7.6"/>
<circle cx="300.3" cy="1747.0" r="7.6"/>
<circle cx="301.8" cy="1679.8" r="7.6"/>
<circle cx="292.2" cy="1754.9" r="7.6"/>
<circle cx="286.7" cy="1692.6" r="7.6"/>
<circle cx="301.8" cy="1712.8" r="7.6"/>
<circle cx="302.3" cy="1748.8" r="7.6"/>
<circle cx="296.8" cy="1685.3" r="7.6"/>
<circle cx="290.5" cy="1731.6" r="7.6"/>
<circle cx="298.9" cy="1740.1" r="7.6"/>
<circle cx="301.4" cy="1726.4" r="7.6"/>
<circle cx="295.4" cy="1713.6" r="7.6"/>
<circle cx="291.5" cy="1743.9" r="7.6"/>
<circle cx="295.5" cy="1720.4" r="7.6"/>
<circle cx="298.9" cy="1698.5" r="7.6"/>
<circle cx="294.9" cy="1677.8" r="7.6"/>
<circle cx="302.0" cy="1732.9" r="7.6"/>
<circle cx="282.5" cy="1690.5" r="7.6"/>
<circle cx="282.4" cy="1737.1" r="7.6"/>
<circle cx="294.4" cy="1658.2" r="7.6"/>
<circle cx="296.6" cy="1746.4" r="7.6"/>
<circle cx="302.8" cy="1662.5" r="7.6"/>
<circle cx="294.0" cy="1682.8" r="7.6"/>
<circle cx="291.5" cy="1700.9" r="7.6"/>
<circle cx="286.6" cy="1696.7" r="7.6"/>
<circle cx="299.8" cy="1687.7" r="7.6"/>
<circle cx="302.6" cy="1645.6" r="7.6"/>
<circle cx="302.9" cy="1657.7" r="7.6"/>
<circle cx="295.3" cy="1669.6" r="7.6"/>
<circle cx="296.9" cy="1738.4" r="7.6"/>
<circle cx="285.6" cy="1722.3" r="7.6"/>
<circle cx="301.4" cy="1666.6" r="7.6"/>
<circle cx="369.5" cy="1499.3" r="7.6"/>
<circle cx="394.7" cy="1505.1" r="7.6"/>
<circle cx="373.0" cy="1522.0" r="7.6"/>
<circle cx="364.1" cy="1524.5" r="7.6"/>
<circle cx="354.3" cy="1530.7" r="7.6"/>
<circle cx="367.3" cy="1545.4" r="7.6"/>
<circle cx="353.5" cy="1547.2" r="7.6"/>
<circle cx="356.0" cy="1550.0" r="7.6"/>
<circle cx="256.8" cy="1548.0" r="7.6"/>
<circle cx="256.8" cy="1573.9" r="7.6"/>
<circle cx="293.6" cy="1551.3" r="7.6"/>
<circle cx="286.3" cy="1565.8" r="7.6"/>
<circle cx="296.1" cy="1563.8" r="7.6"/>
<circle cx="284.6" cy="1582.0" r="7.6"/>
<circle cx="294.2" cy="1583.4" r="7.6"/>
<circle cx="296.0" cy="1592.7" r="7.6"/>
<circle cx="288.2" cy="1611.7" r="7.6"/>
<circle cx="292.0" cy="1619.2" r="7.6"/>
<circle cx="293.6" cy="1625.0" r="7.6"/>
<circle cx="267.2" cy="1632.1" r="7.6"/>
<circle cx="395.4" cy="1585.1" r="7.6"/>
<circle cx="331.7" cy="1610.3" r="7.6"/>
<circle cx="374.8" cy="1610.3" r="7.6"/>
<circle cx="372.9" cy="1632.1" r="7.6"/>
<circle cx="261.3" cy="1671.7" r="7.6"/>
<circle cx="271.0" cy="1671.7" r="7.6"/>
<circle cx="270.2" cy="1686.3" r="7.6"/>
<circle cx="276.6" cy="1684.7" r="7.6"/>
<circle cx="263.7" cy="1725.5" r="7.6"/>
<circle cx="233.3" cy="1753.5" r="7.6"/>
<circle cx="275.0" cy="1757.5" r="7.6"/>
<circle cx="385.1" cy="1699.3" r="7.6"/>
<circle cx="377.1" cy="1734.9" r="7.6"/>
<circle cx="365.6" cy="1735.7" r="7.6"/>
<circle cx="377.9" cy="1680.6" r="7.6"/>
<circle cx="375.3" cy="1655.5" r="7.6"/>
<circle cx="130.0" cy="1659.5" r="7.6"/>
</g>
<g fill="#b3b3b3" fill-opacity="0.7">
<circle cx="307.5" cy="1740.6" r="7.6"/>
<circle cx="308.5" cy="1738.3" r="7.6"/>
<circle cx="307.1" cy="1688.1" r="7.6"/>
<circle cx="309.8" cy="1714.7" r="7.6"/>
<circle cx="310.3" cy="1719.6" r="7.6"/>
<circle cx="308.3" cy="1697.3" r="7.6"/>
<circle cx="311.7" cy="1754.1" r="7.6"/>
<circle cx="308.5" cy="1706.1" r="7.6"/>
<circle cx="309.1" cy="1677.5" r="7.6"/>
<circle cx="308.4" cy="1724.3" r="7.6"/>
<circle cx="310.9" cy="1747.7" r="7.6"/>
<circle cx="310.3" cy="1746.2" r="7.6"/>
<circle cx="310.0" cy="1691.9" r="7.6"/>
<circle cx="311.9" cy="1739.4" r="7.6"/>
<circle cx="310.7" cy="1705.2" r="7.6"/>
<circle cx="311.2" cy="1738.0" r="7.6"/>
<circle cx="308.1" cy="1690.4" r="7.6"/>
<circle cx="310.3" cy="1700.2" r="7.6"/>
<circle cx="309.7" cy="1734.7" r="7.6"/>
<circle cx="307.4" cy="1679.7" r="7.6"/>
<circle cx="310.5" cy="1695.6" r="7.6"/>
<circle cx="311.9" cy="1715.5" r="7.6"/>
<circle cx="310.9" cy="1719.1" r="7.6"/>
<circle cx="307.4" cy="1712.4" r="7.6"/>
<circle cx="308.1" cy="1715.8" r="7.6"/>
<circle cx="308.5" cy="1746.7" r="7.6"/>
<circle cx="312.0" cy="1752.6" r="7.6"/>
<circle cx="309.1" cy="1684.3" r="7.6"/>
<circle cx="311.1" cy="1717.0" r="7.6"/>
<circle cx="309.2" cy="1686.8" r="7.6"/>
<circle cx="308.6" cy="1729.2" r="7.6"/>
<circle cx="307.4" cy="1738.5" r="7.6"/>
<circle cx="308.4" cy="1750.9" r="7.6"/>
<circle cx="309.0" cy="1701.9" r="7.6"/>
<circle cx="308.9" cy="1687.7" r="7.6"/>
<circle cx="308.3" cy="1703.9" r="7.6"/>
<circle cx="311.0" cy="1722.5" r="7.6"/>
<circle cx="310.3" cy="1693.5" r="7.6"/>
<circle cx="311.7" cy="1713.1" r="7.6"/>
<circle cx="308.6" cy="1675.3" r="7.6"/>
<circle cx="307.3" cy="1725.0" r="7.6"/>
<circle cx="309.1" cy="1678.8" r="7.6"/>
<circle cx="308.6" cy="1668.9" r="7.6"/>
<circle cx="310.1" cy="1726.7" r="7.6"/>
<circle cx="307.2" cy="1699.4" r="7.6"/>
<circle cx="311.4" cy="1700.9" r="7.6"/>
<circle cx="312.1" cy="1727.6" r="7.6"/>
<circle cx="311.0" cy="1729.7" r="7.6"/>
<circle cx="309.1" cy="1754.3" r="7.6"/>
<circle cx="307.8" cy="1671.4" r="7.6"/>
<circle cx="309.5" cy="1740.4" r="7.6"/>
<circle cx="307.1" cy="1750.0" r="7.6"/>
</g>
<g fill="#00cd00" fill-opacity="0.7">
<circle cx="306.0" cy="1713.5" r="7.6"/>
<circle cx="304.0" cy="1722.0" r="7.6"/>
<circle cx="302.5" cy="1646.0" r="7.6"/>
<circle cx="303.0" cy="1655.0" r="7.6"/>
<circle cx="300.5" cy="1736.0" r="7.6"/>
</g>
<g fill="#cd0000" fill-opacity="0.7">
<circle cx="701.0" cy="1135.0" r="7.6"/>
<circle cx="185.4" cy="1386.6" r="7.6"/>
<circle cx="373.4" cy="1414.3" r="7.6"/>
<circle cx="368.5" cy="1466.9" r="7.6"/>
<circle cx="353.9" cy="1483.2" r="7.6"/>
</g>
<g stroke="#0000b4" stroke-width="2.25" stroke-dasharray="9.7 9.14" fill="none">
<line x1="301.9" y1="1098.4" x2="301.9" y2="1898.2"/>
<line x1="330.8" y1="1098.4" x2="330.8" y2="1898.2"/>
<line x1="101.7" y1="1758.5" x2="729.4" y2="1758.5"/>
</g>
<g fill="#4d4d4d" font-size="30.5">
<text x="171.9" y="1934.0" text-anchor="middle" textLength="45.1" lengthAdjust="spacingAndGlyphs">-10</text>
<text x="316.4" y="1934.0" text-anchor="middle" textLength="17.3" lengthAdjust="spacingAndGlyphs">0</text>
<text x="460.9" y="1934.0" text-anchor="middle" textLength="34.7" lengthAdjust="spacingAndGlyphs">10</text>
<text x="605.4" y="1934.0" text-anchor="middle" textLength="34.7" lengthAdjust="spacingAndGlyphs">20</text>
<text x="88.5" y="1873.8" text-anchor="end" textLength="43.3" lengthAdjust="spacingAndGlyphs">0.0</text>
<text x="88.5" y="1674.4" text-anchor="end" textLength="43.3" lengthAdjust="spacingAndGlyphs">2.5</text>
<text x="88.5" y="1475.0" text-anchor="end" textLength="43.3" lengthAdjust="spacingAndGlyphs">5.0</text>
<text x="88.5" y="1275.7" text-anchor="end" textLength="43.3" lengthAdjust="spacingAndGlyphs">7.5</text>
</g>
<g fill="#000" font-size="30.5">
<text x="102.2" y="1076.7" textLength="57.2" lengthAdjust="spacingAndGlyphs">A2T</text>
<text x="417.1" y="1969.6" text-anchor="middle" textLength="256.5" lengthAdjust="spacingAndGlyphs">Log2 Fold Change</text>
<text transform="translate(31.3 1498.8) rotate(-90)" text-anchor="middle" textLength="213.1" lengthAdjust="spacingAndGlyphs">-log10(P-value)</text>
</g>
<text x="775.3" y="1444.6" textLength="166.4" lengthAdjust="spacingAndGlyphs" font-size="30.2" fill="#000">Significance</text>
<circle cx="794.7" cy="1482.3" r="10.3" fill="#cd0000" fill-opacity="0.7"/>
<text x="828.2" y="1491.6" textLength="341.9" lengthAdjust="spacingAndGlyphs" font-size="26.0" fill="#000">FDR Significant (padj &lt; 0.05)</text>
<circle cx="794.7" cy="1520.7" r="10.3" fill="#00cd00" fill-opacity="0.7"/>
<text x="828.2" y="1530.0" textLength="405.4" lengthAdjust="spacingAndGlyphs" font-size="26.0" fill="#000">Nominal Significant (p &lt; 0.05 only)</text>
<circle cx="794.7" cy="1558.7" r="10.3" fill="#b3b3b3" fill-opacity="0.7"/>
<text x="828.2" y="1568.0" textLength="171.3" lengthAdjust="spacingAndGlyphs" font-size="26.0" fill="#000">Not Significant</text>
</svg></body></html>
